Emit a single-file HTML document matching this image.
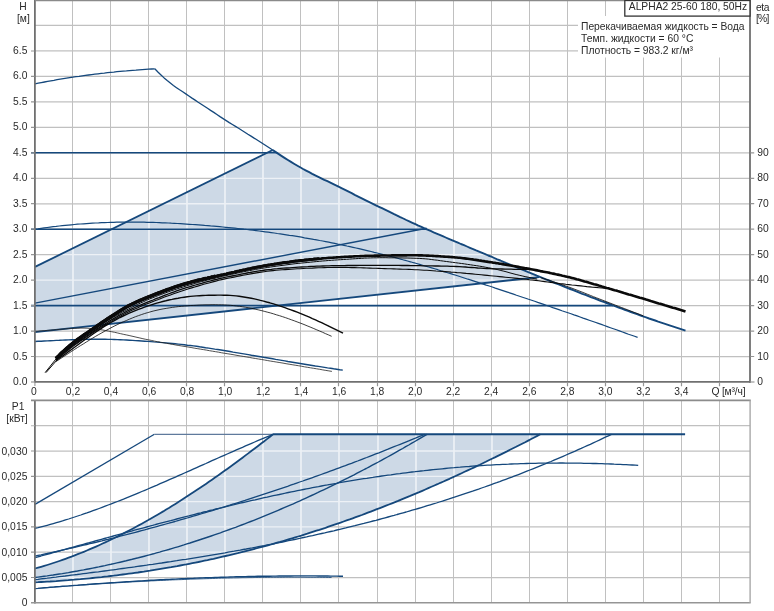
<!DOCTYPE html>
<html><head><meta charset="utf-8"><title>ALPHA2 25-60 180</title>
<style>html,body{margin:0;padding:0;background:#fff;}body{width:774px;height:611px;overflow:hidden;position:relative;font-family:"Liberation Sans",sans-serif;}</style>
</head><body>
<svg width="774" height="611" viewBox="0 0 774 611" style="position:absolute;left:0;top:0">
<rect width="774" height="611" fill="#ffffff"/>
<defs><clipPath id="cu"><path d="M35.0 266.9 L272.7 150.0 L272.7 150.0 L274.1 151.0 L275.5 151.9 L276.9 152.8 L278.3 153.7 L279.6 154.7 L281.0 155.6 L282.4 156.5 L283.8 157.4 L285.2 158.3 L286.5 159.1 L287.9 160.0 L289.3 160.9 L290.7 161.7 L292.1 162.6 L293.4 163.4 L294.8 164.2 L296.2 165.1 L297.6 165.9 L299.0 166.7 L300.3 167.4 L301.7 168.2 L303.1 169.0 L304.5 169.7 L305.9 170.5 L307.3 171.2 L308.6 171.9 L310.0 172.7 L311.4 173.4 L312.8 174.1 L314.2 174.8 L315.5 175.5 L316.9 176.1 L318.3 176.8 L319.7 177.5 L321.1 178.2 L322.4 178.8 L323.8 179.5 L325.2 180.2 L326.6 180.9 L328.0 181.5 L329.3 182.2 L330.7 182.9 L332.1 183.5 L333.5 184.2 L334.9 184.9 L336.2 185.5 L337.6 186.2 L339.0 186.9 L340.4 187.6 L341.8 188.3 L343.1 189.0 L344.5 189.7 L345.9 190.4 L347.3 191.1 L348.7 191.7 L350.0 192.4 L351.4 193.1 L352.8 193.8 L354.2 194.5 L355.6 195.2 L357.0 195.9 L358.3 196.6 L359.7 197.3 L361.1 197.9 L362.5 198.6 L363.9 199.3 L365.2 200.0 L366.6 200.7 L368.0 201.4 L369.4 202.1 L370.8 202.7 L372.1 203.4 L373.5 204.1 L374.9 204.8 L376.3 205.4 L377.7 206.1 L379.0 206.8 L380.4 207.5 L381.8 208.1 L383.2 208.8 L384.6 209.5 L385.9 210.2 L387.3 210.8 L388.7 211.5 L390.1 212.2 L391.5 212.9 L392.8 213.5 L394.2 214.2 L395.6 214.9 L397.0 215.5 L398.4 216.2 L399.7 216.9 L401.1 217.5 L402.5 218.2 L403.9 218.8 L405.3 219.5 L406.7 220.1 L408.0 220.8 L409.4 221.4 L410.8 222.1 L412.2 222.7 L413.6 223.4 L414.9 224.0 L416.3 224.6 L417.7 225.3 L419.1 225.9 L420.5 226.5 L421.8 227.1 L423.2 227.7 L424.6 228.3 L426.0 228.9 L427.4 229.5 L428.7 230.2 L430.1 230.8 L431.5 231.4 L432.9 232.0 L434.3 232.5 L435.6 233.1 L437.0 233.7 L438.4 234.3 L439.8 234.9 L441.2 235.5 L442.5 236.1 L443.9 236.7 L445.3 237.3 L446.7 237.9 L448.1 238.5 L449.4 239.1 L450.8 239.6 L452.2 240.2 L453.6 240.8 L455.0 241.4 L456.4 242.0 L457.7 242.6 L459.1 243.2 L460.5 243.8 L461.9 244.4 L463.3 244.9 L464.6 245.5 L466.0 246.1 L467.4 246.7 L468.8 247.3 L470.2 247.9 L471.5 248.4 L472.9 249.0 L474.3 249.6 L475.7 250.2 L477.1 250.8 L478.4 251.3 L479.8 251.9 L481.2 252.5 L482.6 253.1 L484.0 253.7 L485.3 254.2 L486.7 254.8 L488.1 255.4 L489.5 256.0 L490.9 256.6 L492.2 257.1 L493.6 257.7 L495.0 258.3 L496.4 258.9 L497.8 259.4 L499.1 260.0 L500.5 260.6 L501.9 261.2 L503.3 261.7 L504.7 262.3 L506.1 262.9 L507.4 263.5 L508.8 264.0 L510.2 264.6 L511.6 265.2 L513.0 265.8 L514.3 266.3 L515.7 266.9 L517.1 267.5 L518.5 268.1 L519.9 268.6 L521.2 269.2 L522.6 269.8 L524.0 270.3 L525.4 270.9 L526.8 271.5 L528.1 272.0 L529.5 272.6 L530.9 273.2 L532.3 273.7 L533.7 274.3 L535.0 274.9 L536.4 275.4 L537.2 276.3 L35.0 332.1Z"/></clipPath><clipPath id="cl"><path d="M35.0 568.5 L38.1 567.6 L41.1 566.8 L44.2 565.9 L47.2 565.0 L50.3 564.0 L53.3 563.0 L56.4 562.0 L59.4 561.0 L62.5 559.9 L65.5 558.8 L68.6 557.7 L71.6 556.6 L74.7 555.4 L77.7 554.2 L80.8 553.0 L83.8 551.8 L86.9 550.5 L89.9 549.2 L93.0 547.9 L96.0 546.6 L99.1 545.2 L102.1 543.8 L105.2 542.4 L108.2 541.0 L111.3 539.5 L114.3 538.0 L117.4 536.5 L120.4 535.0 L123.5 533.4 L126.5 531.9 L129.6 530.3 L132.6 528.7 L135.7 527.0 L138.7 525.4 L141.8 523.7 L144.8 522.0 L147.9 520.3 L151.0 518.5 L154.0 516.8 L157.1 515.0 L160.1 513.2 L163.2 511.4 L166.2 509.5 L169.3 507.7 L172.3 505.8 L175.4 503.9 L178.4 502.0 L181.5 500.0 L184.5 498.1 L187.6 496.1 L190.6 494.1 L193.7 492.1 L196.7 490.1 L199.8 488.0 L202.8 486.0 L205.9 483.9 L208.9 481.8 L212.0 479.7 L215.0 477.6 L218.1 475.4 L221.1 473.3 L224.2 471.1 L227.2 468.9 L230.3 466.7 L233.3 464.5 L236.4 462.2 L239.4 460.0 L242.5 457.7 L245.5 455.4 L248.6 453.1 L251.6 450.8 L254.7 448.5 L257.7 446.2 L260.8 443.8 L263.9 441.5 L266.9 439.1 L270.0 436.7 L273.0 434.3 L540.3 434.3 L537.3 435.9 L534.2 437.5 L531.2 439.0 L528.2 440.6 L525.2 442.2 L522.1 443.7 L519.1 445.2 L516.1 446.8 L513.1 448.3 L510.0 449.8 L507.0 451.4 L504.0 452.9 L501.0 454.4 L497.9 455.9 L494.9 457.4 L491.9 458.8 L488.8 460.3 L485.8 461.8 L482.8 463.2 L479.8 464.7 L476.7 466.1 L473.7 467.6 L470.7 469.0 L467.7 470.4 L464.6 471.8 L461.6 473.2 L458.6 474.6 L455.6 476.0 L452.5 477.4 L449.5 478.8 L446.5 480.1 L443.5 481.5 L440.4 482.8 L437.4 484.2 L434.4 485.5 L431.4 486.8 L428.3 488.2 L425.3 489.5 L422.3 490.8 L419.3 492.1 L416.2 493.3 L413.2 494.6 L410.2 495.9 L407.2 497.1 L404.1 498.4 L401.1 499.6 L398.1 500.9 L395.1 502.1 L392.0 503.3 L389.0 504.5 L386.0 505.7 L383.0 506.9 L379.9 508.1 L376.9 509.2 L373.9 510.4 L370.8 511.6 L367.8 512.7 L364.8 513.8 L361.8 515.0 L358.7 516.1 L355.7 517.2 L352.7 518.3 L349.7 519.4 L346.6 520.4 L343.6 521.5 L340.6 522.6 L337.6 523.6 L334.5 524.7 L331.5 525.7 L328.5 526.7 L325.5 527.8 L322.4 528.8 L319.4 529.8 L316.4 530.7 L313.4 531.7 L310.3 532.7 L307.3 533.7 L304.3 534.6 L301.3 535.6 L298.2 536.5 L295.2 537.4 L292.2 538.3 L289.2 539.2 L286.1 540.1 L283.1 541.0 L280.1 541.9 L277.1 542.7 L274.0 543.6 L271.0 544.5 L268.0 545.3 L265.0 546.1 L261.9 546.9 L258.9 547.7 L255.9 548.5 L252.8 549.3 L249.8 550.1 L246.8 550.9 L243.8 551.7 L240.7 552.4 L237.7 553.2 L234.7 553.9 L231.7 554.6 L228.6 555.3 L225.6 556.0 L222.6 556.7 L219.6 557.4 L216.5 558.1 L213.5 558.8 L210.5 559.4 L207.5 560.1 L204.4 560.7 L201.4 561.3 L198.4 562.0 L195.4 562.6 L192.3 563.2 L189.3 563.8 L186.3 564.4 L183.3 564.9 L180.2 565.5 L177.2 566.1 L174.2 566.6 L171.2 567.2 L168.1 567.7 L165.1 568.2 L162.1 568.7 L159.1 569.2 L156.0 569.7 L153.0 570.2 L150.0 570.7 L146.9 571.1 L143.9 571.6 L140.9 572.0 L137.9 572.5 L134.8 572.9 L131.8 573.3 L128.8 573.7 L125.8 574.1 L122.7 574.5 L119.7 574.9 L116.7 575.3 L113.7 575.7 L110.6 576.0 L107.6 576.4 L104.6 576.7 L101.6 577.1 L98.5 577.4 L95.5 577.7 L92.5 578.0 L89.5 578.3 L86.4 578.6 L83.4 578.9 L80.4 579.2 L77.4 579.4 L74.3 579.7 L71.3 579.9 L68.3 580.2 L65.3 580.4 L62.2 580.6 L59.2 580.8 L56.2 581.1 L53.2 581.3 L50.1 581.5 L47.1 581.6 L44.1 581.8 L41.1 582.0 L38.0 582.2 L35.0 582.3Z"/></clipPath></defs>
<g stroke="#c0c0c0" stroke-width="1.25" fill="none"><path d="M72.5 0.5 V382.0 M72.5 400.4 V602.8" stroke-width="1.0"/><path d="M110.5 0.5 V382.0 M110.5 400.4 V602.8" stroke-width="1.0"/><path d="M148.5 0.5 V382.0 M148.5 400.4 V602.8" stroke-width="1.0"/><path d="M186.5 0.5 V382.0 M186.5 400.4 V602.8" stroke-width="1.0"/><path d="M224.5 0.5 V382.0 M224.5 400.4 V602.8" stroke-width="1.0"/><path d="M262.5 0.5 V382.0 M262.5 400.4 V602.8" stroke-width="1.0"/><path d="M300.5 0.5 V382.0 M300.5 400.4 V602.8" stroke-width="1.0"/><path d="M338.5 0.5 V382.0 M338.5 400.4 V602.8" stroke-width="1.0"/><path d="M377.5 0.5 V382.0 M377.5 400.4 V602.8" stroke-width="1.0"/><path d="M415.5 0.5 V382.0 M415.5 400.4 V602.8" stroke-width="1.0"/><path d="M453.5 0.5 V382.0 M453.5 400.4 V602.8" stroke-width="1.0"/><path d="M491.5 0.5 V382.0 M491.5 400.4 V602.8" stroke-width="1.0"/><path d="M529.5 0.5 V382.0 M529.5 400.4 V602.8" stroke-width="1.0"/><path d="M567.5 0.5 V382.0 M567.5 400.4 V602.8" stroke-width="1.0"/><path d="M605.5 0.5 V382.0 M605.5 400.4 V602.8" stroke-width="1.0"/><path d="M643.5 0.5 V382.0 M643.5 400.4 V602.8" stroke-width="1.0"/><path d="M681.5 0.5 V382.0 M681.5 400.4 V602.8" stroke-width="1.0"/><path d="M719.5 0.5 V382.0 M719.5 400.4 V602.8" stroke-width="1.0"/><path d="M35.0 356.54 H750.0"/><path d="M35.0 331.07 H750.0"/><path d="M35.0 305.61 H750.0"/><path d="M35.0 280.14 H750.0"/><path d="M35.0 254.68 H750.0"/><path d="M35.0 229.21 H750.0"/><path d="M35.0 203.75 H750.0"/><path d="M35.0 178.28 H750.0"/><path d="M35.0 152.81 H750.0"/><path d="M35.0 127.35 H750.0"/><path d="M35.0 101.88 H750.0"/><path d="M35.0 76.42 H750.0"/><path d="M35.0 50.95 H750.0"/><path d="M35.0 25.49 H750.0"/><path d="M35.0 577.50 H750.0"/><path d="M35.0 552.20 H750.0"/><path d="M35.0 526.90 H750.0"/><path d="M35.0 501.60 H750.0"/><path d="M35.0 476.30 H750.0"/><path d="M35.0 451.00 H750.0"/><path d="M35.0 425.70 H750.0"/></g>
<path d="M35.0 266.9 L272.7 150.0 L272.7 150.0 L274.1 151.0 L275.5 151.9 L276.9 152.8 L278.3 153.7 L279.6 154.7 L281.0 155.6 L282.4 156.5 L283.8 157.4 L285.2 158.3 L286.5 159.1 L287.9 160.0 L289.3 160.9 L290.7 161.7 L292.1 162.6 L293.4 163.4 L294.8 164.2 L296.2 165.1 L297.6 165.9 L299.0 166.7 L300.3 167.4 L301.7 168.2 L303.1 169.0 L304.5 169.7 L305.9 170.5 L307.3 171.2 L308.6 171.9 L310.0 172.7 L311.4 173.4 L312.8 174.1 L314.2 174.8 L315.5 175.5 L316.9 176.1 L318.3 176.8 L319.7 177.5 L321.1 178.2 L322.4 178.8 L323.8 179.5 L325.2 180.2 L326.6 180.9 L328.0 181.5 L329.3 182.2 L330.7 182.9 L332.1 183.5 L333.5 184.2 L334.9 184.9 L336.2 185.5 L337.6 186.2 L339.0 186.9 L340.4 187.6 L341.8 188.3 L343.1 189.0 L344.5 189.7 L345.9 190.4 L347.3 191.1 L348.7 191.7 L350.0 192.4 L351.4 193.1 L352.8 193.8 L354.2 194.5 L355.6 195.2 L357.0 195.9 L358.3 196.6 L359.7 197.3 L361.1 197.9 L362.5 198.6 L363.9 199.3 L365.2 200.0 L366.6 200.7 L368.0 201.4 L369.4 202.1 L370.8 202.7 L372.1 203.4 L373.5 204.1 L374.9 204.8 L376.3 205.4 L377.7 206.1 L379.0 206.8 L380.4 207.5 L381.8 208.1 L383.2 208.8 L384.6 209.5 L385.9 210.2 L387.3 210.8 L388.7 211.5 L390.1 212.2 L391.5 212.9 L392.8 213.5 L394.2 214.2 L395.6 214.9 L397.0 215.5 L398.4 216.2 L399.7 216.9 L401.1 217.5 L402.5 218.2 L403.9 218.8 L405.3 219.5 L406.7 220.1 L408.0 220.8 L409.4 221.4 L410.8 222.1 L412.2 222.7 L413.6 223.4 L414.9 224.0 L416.3 224.6 L417.7 225.3 L419.1 225.9 L420.5 226.5 L421.8 227.1 L423.2 227.7 L424.6 228.3 L426.0 228.9 L427.4 229.5 L428.7 230.2 L430.1 230.8 L431.5 231.4 L432.9 232.0 L434.3 232.5 L435.6 233.1 L437.0 233.7 L438.4 234.3 L439.8 234.9 L441.2 235.5 L442.5 236.1 L443.9 236.7 L445.3 237.3 L446.7 237.9 L448.1 238.5 L449.4 239.1 L450.8 239.6 L452.2 240.2 L453.6 240.8 L455.0 241.4 L456.4 242.0 L457.7 242.6 L459.1 243.2 L460.5 243.8 L461.9 244.4 L463.3 244.9 L464.6 245.5 L466.0 246.1 L467.4 246.7 L468.8 247.3 L470.2 247.9 L471.5 248.4 L472.9 249.0 L474.3 249.6 L475.7 250.2 L477.1 250.8 L478.4 251.3 L479.8 251.9 L481.2 252.5 L482.6 253.1 L484.0 253.7 L485.3 254.2 L486.7 254.8 L488.1 255.4 L489.5 256.0 L490.9 256.6 L492.2 257.1 L493.6 257.7 L495.0 258.3 L496.4 258.9 L497.8 259.4 L499.1 260.0 L500.5 260.6 L501.9 261.2 L503.3 261.7 L504.7 262.3 L506.1 262.9 L507.4 263.5 L508.8 264.0 L510.2 264.6 L511.6 265.2 L513.0 265.8 L514.3 266.3 L515.7 266.9 L517.1 267.5 L518.5 268.1 L519.9 268.6 L521.2 269.2 L522.6 269.8 L524.0 270.3 L525.4 270.9 L526.8 271.5 L528.1 272.0 L529.5 272.6 L530.9 273.2 L532.3 273.7 L533.7 274.3 L535.0 274.9 L536.4 275.4 L537.2 276.3 L35.0 332.1Z" fill="#cdd9e6"/>
<path d="M35.0 568.5 L38.1 567.6 L41.1 566.8 L44.2 565.9 L47.2 565.0 L50.3 564.0 L53.3 563.0 L56.4 562.0 L59.4 561.0 L62.5 559.9 L65.5 558.8 L68.6 557.7 L71.6 556.6 L74.7 555.4 L77.7 554.2 L80.8 553.0 L83.8 551.8 L86.9 550.5 L89.9 549.2 L93.0 547.9 L96.0 546.6 L99.1 545.2 L102.1 543.8 L105.2 542.4 L108.2 541.0 L111.3 539.5 L114.3 538.0 L117.4 536.5 L120.4 535.0 L123.5 533.4 L126.5 531.9 L129.6 530.3 L132.6 528.7 L135.7 527.0 L138.7 525.4 L141.8 523.7 L144.8 522.0 L147.9 520.3 L151.0 518.5 L154.0 516.8 L157.1 515.0 L160.1 513.2 L163.2 511.4 L166.2 509.5 L169.3 507.7 L172.3 505.8 L175.4 503.9 L178.4 502.0 L181.5 500.0 L184.5 498.1 L187.6 496.1 L190.6 494.1 L193.7 492.1 L196.7 490.1 L199.8 488.0 L202.8 486.0 L205.9 483.9 L208.9 481.8 L212.0 479.7 L215.0 477.6 L218.1 475.4 L221.1 473.3 L224.2 471.1 L227.2 468.9 L230.3 466.7 L233.3 464.5 L236.4 462.2 L239.4 460.0 L242.5 457.7 L245.5 455.4 L248.6 453.1 L251.6 450.8 L254.7 448.5 L257.7 446.2 L260.8 443.8 L263.9 441.5 L266.9 439.1 L270.0 436.7 L273.0 434.3 L540.3 434.3 L537.3 435.9 L534.2 437.5 L531.2 439.0 L528.2 440.6 L525.2 442.2 L522.1 443.7 L519.1 445.2 L516.1 446.8 L513.1 448.3 L510.0 449.8 L507.0 451.4 L504.0 452.9 L501.0 454.4 L497.9 455.9 L494.9 457.4 L491.9 458.8 L488.8 460.3 L485.8 461.8 L482.8 463.2 L479.8 464.7 L476.7 466.1 L473.7 467.6 L470.7 469.0 L467.7 470.4 L464.6 471.8 L461.6 473.2 L458.6 474.6 L455.6 476.0 L452.5 477.4 L449.5 478.8 L446.5 480.1 L443.5 481.5 L440.4 482.8 L437.4 484.2 L434.4 485.5 L431.4 486.8 L428.3 488.2 L425.3 489.5 L422.3 490.8 L419.3 492.1 L416.2 493.3 L413.2 494.6 L410.2 495.9 L407.2 497.1 L404.1 498.4 L401.1 499.6 L398.1 500.9 L395.1 502.1 L392.0 503.3 L389.0 504.5 L386.0 505.7 L383.0 506.9 L379.9 508.1 L376.9 509.2 L373.9 510.4 L370.8 511.6 L367.8 512.7 L364.8 513.8 L361.8 515.0 L358.7 516.1 L355.7 517.2 L352.7 518.3 L349.7 519.4 L346.6 520.4 L343.6 521.5 L340.6 522.6 L337.6 523.6 L334.5 524.7 L331.5 525.7 L328.5 526.7 L325.5 527.8 L322.4 528.8 L319.4 529.8 L316.4 530.7 L313.4 531.7 L310.3 532.7 L307.3 533.7 L304.3 534.6 L301.3 535.6 L298.2 536.5 L295.2 537.4 L292.2 538.3 L289.2 539.2 L286.1 540.1 L283.1 541.0 L280.1 541.9 L277.1 542.7 L274.0 543.6 L271.0 544.5 L268.0 545.3 L265.0 546.1 L261.9 546.9 L258.9 547.7 L255.9 548.5 L252.8 549.3 L249.8 550.1 L246.8 550.9 L243.8 551.7 L240.7 552.4 L237.7 553.2 L234.7 553.9 L231.7 554.6 L228.6 555.3 L225.6 556.0 L222.6 556.7 L219.6 557.4 L216.5 558.1 L213.5 558.8 L210.5 559.4 L207.5 560.1 L204.4 560.7 L201.4 561.3 L198.4 562.0 L195.4 562.6 L192.3 563.2 L189.3 563.8 L186.3 564.4 L183.3 564.9 L180.2 565.5 L177.2 566.1 L174.2 566.6 L171.2 567.2 L168.1 567.7 L165.1 568.2 L162.1 568.7 L159.1 569.2 L156.0 569.7 L153.0 570.2 L150.0 570.7 L146.9 571.1 L143.9 571.6 L140.9 572.0 L137.9 572.5 L134.8 572.9 L131.8 573.3 L128.8 573.7 L125.8 574.1 L122.7 574.5 L119.7 574.9 L116.7 575.3 L113.7 575.7 L110.6 576.0 L107.6 576.4 L104.6 576.7 L101.6 577.1 L98.5 577.4 L95.5 577.7 L92.5 578.0 L89.5 578.3 L86.4 578.6 L83.4 578.9 L80.4 579.2 L77.4 579.4 L74.3 579.7 L71.3 579.9 L68.3 580.2 L65.3 580.4 L62.2 580.6 L59.2 580.8 L56.2 581.1 L53.2 581.3 L50.1 581.5 L47.1 581.6 L44.1 581.8 L41.1 582.0 L38.0 582.2 L35.0 582.3Z" fill="#cdd9e6"/>
<g stroke="#edf1f6" stroke-width="1.3" fill="none" clip-path="url(#cu)"><path d="M73.0 0.5 V382.0 M73.0 400.4 V602.8" stroke-width="1.7"/><path d="M111.0 0.5 V382.0 M111.0 400.4 V602.8" stroke-width="1.7"/><path d="M149.0 0.5 V382.0 M149.0 400.4 V602.8" stroke-width="1.7"/><path d="M187.0 0.5 V382.0 M187.0 400.4 V602.8" stroke-width="1.7"/><path d="M225.0 0.5 V382.0 M225.0 400.4 V602.8" stroke-width="1.7"/><path d="M263.0 0.5 V382.0 M263.0 400.4 V602.8" stroke-width="1.7"/><path d="M301.0 0.5 V382.0 M301.0 400.4 V602.8" stroke-width="1.7"/><path d="M339.0 0.5 V382.0 M339.0 400.4 V602.8" stroke-width="1.7"/><path d="M378.0 0.5 V382.0 M378.0 400.4 V602.8" stroke-width="1.7"/><path d="M416.0 0.5 V382.0 M416.0 400.4 V602.8" stroke-width="1.7"/><path d="M454.0 0.5 V382.0 M454.0 400.4 V602.8" stroke-width="1.7"/><path d="M492.0 0.5 V382.0 M492.0 400.4 V602.8" stroke-width="1.7"/><path d="M530.0 0.5 V382.0 M530.0 400.4 V602.8" stroke-width="1.7"/><path d="M568.0 0.5 V382.0 M568.0 400.4 V602.8" stroke-width="1.7"/><path d="M606.0 0.5 V382.0 M606.0 400.4 V602.8" stroke-width="1.7"/><path d="M644.0 0.5 V382.0 M644.0 400.4 V602.8" stroke-width="1.7"/><path d="M682.0 0.5 V382.0 M682.0 400.4 V602.8" stroke-width="1.7"/><path d="M720.0 0.5 V382.0 M720.0 400.4 V602.8" stroke-width="1.7"/><path d="M35.0 356.54 H750.0"/><path d="M35.0 331.07 H750.0"/><path d="M35.0 305.61 H750.0"/><path d="M35.0 280.14 H750.0"/><path d="M35.0 254.68 H750.0"/><path d="M35.0 229.21 H750.0"/><path d="M35.0 203.75 H750.0"/><path d="M35.0 178.28 H750.0"/><path d="M35.0 152.81 H750.0"/><path d="M35.0 127.35 H750.0"/><path d="M35.0 101.88 H750.0"/><path d="M35.0 76.42 H750.0"/><path d="M35.0 50.95 H750.0"/><path d="M35.0 25.49 H750.0"/><path d="M35.0 577.50 H750.0"/><path d="M35.0 552.20 H750.0"/><path d="M35.0 526.90 H750.0"/><path d="M35.0 501.60 H750.0"/><path d="M35.0 476.30 H750.0"/><path d="M35.0 451.00 H750.0"/><path d="M35.0 425.70 H750.0"/></g>
<g stroke="#edf1f6" stroke-width="1.3" fill="none" clip-path="url(#cl)"><path d="M73.0 0.5 V382.0 M73.0 400.4 V602.8" stroke-width="1.7"/><path d="M111.0 0.5 V382.0 M111.0 400.4 V602.8" stroke-width="1.7"/><path d="M149.0 0.5 V382.0 M149.0 400.4 V602.8" stroke-width="1.7"/><path d="M187.0 0.5 V382.0 M187.0 400.4 V602.8" stroke-width="1.7"/><path d="M225.0 0.5 V382.0 M225.0 400.4 V602.8" stroke-width="1.7"/><path d="M263.0 0.5 V382.0 M263.0 400.4 V602.8" stroke-width="1.7"/><path d="M301.0 0.5 V382.0 M301.0 400.4 V602.8" stroke-width="1.7"/><path d="M339.0 0.5 V382.0 M339.0 400.4 V602.8" stroke-width="1.7"/><path d="M378.0 0.5 V382.0 M378.0 400.4 V602.8" stroke-width="1.7"/><path d="M416.0 0.5 V382.0 M416.0 400.4 V602.8" stroke-width="1.7"/><path d="M454.0 0.5 V382.0 M454.0 400.4 V602.8" stroke-width="1.7"/><path d="M492.0 0.5 V382.0 M492.0 400.4 V602.8" stroke-width="1.7"/><path d="M530.0 0.5 V382.0 M530.0 400.4 V602.8" stroke-width="1.7"/><path d="M568.0 0.5 V382.0 M568.0 400.4 V602.8" stroke-width="1.7"/><path d="M606.0 0.5 V382.0 M606.0 400.4 V602.8" stroke-width="1.7"/><path d="M644.0 0.5 V382.0 M644.0 400.4 V602.8" stroke-width="1.7"/><path d="M682.0 0.5 V382.0 M682.0 400.4 V602.8" stroke-width="1.7"/><path d="M720.0 0.5 V382.0 M720.0 400.4 V602.8" stroke-width="1.7"/><path d="M35.0 356.54 H750.0"/><path d="M35.0 331.07 H750.0"/><path d="M35.0 305.61 H750.0"/><path d="M35.0 280.14 H750.0"/><path d="M35.0 254.68 H750.0"/><path d="M35.0 229.21 H750.0"/><path d="M35.0 203.75 H750.0"/><path d="M35.0 178.28 H750.0"/><path d="M35.0 152.81 H750.0"/><path d="M35.0 127.35 H750.0"/><path d="M35.0 101.88 H750.0"/><path d="M35.0 76.42 H750.0"/><path d="M35.0 50.95 H750.0"/><path d="M35.0 25.49 H750.0"/><path d="M35.0 577.50 H750.0"/><path d="M35.0 552.20 H750.0"/><path d="M35.0 526.90 H750.0"/><path d="M35.0 501.60 H750.0"/><path d="M35.0 476.30 H750.0"/><path d="M35.0 451.00 H750.0"/><path d="M35.0 425.70 H750.0"/></g>
<rect x="578" y="16" width="171" height="41.5" fill="#ffffff"/>
<path d="M35.0 83.8 L38.2 83.2 L41.3 82.6 L44.5 82.0 L47.6 81.4 L50.8 80.8 L53.9 80.3 L57.1 79.7 L60.2 79.2 L63.4 78.7 L66.5 78.2 L69.7 77.7 L72.8 77.2 L76.0 76.7 L79.1 76.3 L82.3 75.8 L85.4 75.4 L88.6 75.0 L91.7 74.6 L94.9 74.2 L98.0 73.8 L101.2 73.4 L104.3 73.1 L107.5 72.7 L110.6 72.4 L113.8 72.1 L116.9 71.7 L120.1 71.4 L123.2 71.1 L126.4 70.9 L129.5 70.6 L132.7 70.3 L135.9 70.1 L139.0 69.8 L142.2 69.6 L145.3 69.4 L148.5 69.2 L151.6 69.0 L154.8 68.8" fill="none" stroke="#15487c" stroke-width="1.3" stroke-linejoin="round" stroke-linecap="butt" />
<path d="M154.8 68.8 L157.9 72.0 L161.0 75.0 L164.1 77.9 L167.2 80.6 L170.3 83.1 L173.4 85.5 L176.5 87.7 L179.6 89.8 L182.7 91.8 L185.8 93.9 L188.9 96.0 L192.0 98.1 L195.1 100.1 L198.2 102.2 L201.3 104.2 L204.4 106.2 L207.5 108.3 L210.6 110.4 L213.8 112.4 L216.9 114.5 L220.0 116.6 L223.1 118.6 L226.2 120.6 L229.3 122.6 L232.4 124.5 L235.5 126.4 L238.6 128.3 L241.7 130.3 L244.8 132.2 L247.9 134.2 L251.0 136.1 L254.1 138.1 L257.2 140.0 L260.3 142.0 L263.4 144.0 L266.5 146.0 L269.6 148.0 L272.7 150.0" fill="none" stroke="#15487c" stroke-width="1.3" stroke-linejoin="round" stroke-linecap="butt" />
<path d="M272.7 150.0 L275.8 152.1 L278.8 154.1 L281.8 156.1 L284.9 158.1 L287.9 160.0 L291.0 161.9 L294.0 163.7 L297.0 165.5 L300.1 167.3 L303.1 169.0 L306.1 170.6 L309.2 172.2 L312.2 173.8 L315.2 175.3 L318.3 176.8 L321.3 178.3 L324.3 179.8 L327.4 181.2 L330.4 182.7 L333.4 184.2 L336.5 185.7 L339.5 187.2 L342.5 188.7 L345.6 190.2 L348.6 191.7 L351.7 193.2 L354.7 194.8 L357.7 196.3 L360.8 197.8 L363.8 199.3 L366.8 200.8 L369.9 202.3 L372.9 203.8 L375.9 205.3 L379.0 206.8 L382.0 208.2 L385.0 209.7 L388.1 211.2 L391.1 212.7 L394.1 214.2 L397.2 215.6 L400.2 217.1 L403.3 218.5 L406.3 220.0 L409.3 221.4 L412.4 222.8 L415.4 224.2 L418.4 225.6 L421.5 226.9 L424.5 228.3 L427.5 229.6 L430.6 230.9 L433.6 232.3 L436.6 233.6 L439.7 234.9 L442.7 236.2 L445.7 237.5 L448.8 238.8 L451.8 240.1 L454.8 241.4 L457.9 242.7 L460.9 244.0 L464.0 245.2 L467.0 246.5 L470.0 247.8 L473.1 249.1 L476.1 250.4 L479.1 251.6 L482.2 252.9 L485.2 254.2 L488.2 255.5 L491.3 256.7 L494.3 258.0 L497.3 259.3 L500.4 260.5 L503.4 261.8 L506.4 263.1 L509.5 264.3 L512.5 265.6 L515.6 266.8 L518.6 268.1 L521.6 269.4 L524.7 270.6 L527.7 271.9 L530.7 273.1 L533.8 274.3 L536.8 275.6 L539.8 276.8 L542.9 278.1 L545.9 279.3 L548.9 280.5 L552.0 281.8 L555.0 283.0 L558.0 284.2 L561.1 285.4 L564.1 286.6 L567.2 287.8 L570.2 289.0 L573.2 290.2 L576.3 291.4 L579.3 292.6 L582.3 293.8 L585.4 294.9 L588.4 296.1 L591.4 297.3 L594.5 298.4 L597.5 299.6 L600.5 300.8 L603.6 301.9 L606.6 303.0 L609.6 304.2 L612.7 305.3 L615.7 306.4 L618.7 307.6 L621.8 308.7 L624.8 309.8 L627.9 310.9 L630.9 312.0 L633.9 313.1 L637.0 314.2 L640.0 315.3 L643.0 316.4 L646.1 317.4 L649.1 318.5 L652.1 319.5 L655.2 320.5 L658.2 321.6 L661.2 322.6 L664.3 323.6 L667.3 324.6 L670.3 325.6 L673.4 326.6 L676.4 327.6 L679.5 328.6 L682.5 329.6 L685.5 330.6" fill="none" stroke="#15487c" stroke-width="1.9" stroke-linejoin="round" stroke-linecap="butt" />
<path d="M31.0 152.8 L277.4 152.8" fill="none" stroke="#15487c" stroke-width="1.6" stroke-linejoin="round" stroke-linecap="butt" />
<path d="M31.0 229.2 L426.6 229.2" fill="none" stroke="#15487c" stroke-width="1.6" stroke-linejoin="round" stroke-linecap="butt" />
<path d="M31.0 305.6 L612.9 305.6" fill="none" stroke="#15487c" stroke-width="1.6" stroke-linejoin="round" stroke-linecap="butt" />
<path d="M35.0 266.9 L272.7 150.0" fill="none" stroke="#15487c" stroke-width="1.8" stroke-linejoin="round" stroke-linecap="butt" />
<path d="M35.0 303.1 L426.6 228.2" fill="none" stroke="#15487c" stroke-width="1.4" stroke-linejoin="round" stroke-linecap="butt" />
<path d="M35.0 332.1 L539.1 277.1" fill="none" stroke="#15487c" stroke-width="1.8" stroke-linejoin="round" stroke-linecap="butt" />
<path d="M35.0 229.2 L38.0 228.8 L41.1 228.3 L44.1 227.9 L47.1 227.5 L50.1 227.1 L53.2 226.7 L56.2 226.4 L59.2 226.0 L62.3 225.7 L65.3 225.4 L68.3 225.1 L71.3 224.8 L74.4 224.5 L77.4 224.2 L80.4 224.0 L83.5 223.8 L86.5 223.6 L89.5 223.4 L92.5 223.2 L95.6 223.0 L98.6 222.9 L101.6 222.7 L104.6 222.6 L107.7 222.5 L110.7 222.4 L113.7 222.3 L116.8 222.2 L119.8 222.2 L122.8 222.1 L125.8 222.1 L128.9 222.1 L131.9 222.1 L134.9 222.1 L138.0 222.1 L141.0 222.2 L144.0 222.2 L147.0 222.3 L150.1 222.3 L153.1 222.4 L156.1 222.5 L159.2 222.6 L162.2 222.8 L165.2 222.9 L168.2 223.0 L171.3 223.2 L174.3 223.3 L177.3 223.5 L180.4 223.7 L183.4 223.9 L186.4 224.1 L189.4 224.3 L192.5 224.5 L195.5 224.7 L198.5 224.9 L201.6 225.1 L204.6 225.4 L207.6 225.6 L210.6 225.9 L213.7 226.1 L216.7 226.4 L219.7 226.7 L222.8 227.0 L225.8 227.3 L228.8 227.6 L231.8 227.9 L234.9 228.2 L237.9 228.5 L240.9 228.8 L243.9 229.2 L247.0 229.5 L250.0 229.9 L253.0 230.2 L256.1 230.6 L259.1 231.0 L262.1 231.4 L265.1 231.8 L268.2 232.2 L271.2 232.6 L274.2 233.0 L277.3 233.5 L280.3 233.9 L283.3 234.3 L286.3 234.8 L289.4 235.3 L292.4 235.7 L295.4 236.2 L298.5 236.7 L301.5 237.2 L304.5 237.8 L307.5 238.3 L310.6 238.8 L313.6 239.4 L316.6 239.9 L319.7 240.5 L322.7 241.0 L325.7 241.6 L328.7 242.2 L331.8 242.8 L334.8 243.4 L337.8 244.1 L340.9 244.7 L343.9 245.3 L346.9 246.0 L349.9 246.6 L353.0 247.3 L356.0 248.0 L359.0 248.7 L362.0 249.4 L365.1 250.1 L368.1 250.8 L371.1 251.5 L374.2 252.3 L377.2 253.0 L380.2 253.8 L383.2 254.6 L386.3 255.3 L389.3 256.1 L392.3 256.9 L395.4 257.7 L398.4 258.5 L401.4 259.3 L404.4 260.2 L407.5 261.0 L410.5 261.8 L413.5 262.7 L416.6 263.5 L419.6 264.4 L422.6 265.3 L425.6 266.2 L428.7 267.0 L431.7 267.9 L434.7 268.8 L437.8 269.7 L440.8 270.7 L443.8 271.6 L446.8 272.5 L449.9 273.4 L452.9 274.4 L455.9 275.3 L459.0 276.3 L462.0 277.2 L465.0 278.2 L468.0 279.2 L471.1 280.1 L474.1 281.1 L477.1 282.1 L480.1 283.1 L483.2 284.1 L486.2 285.1 L489.2 286.0 L492.3 287.0 L495.3 288.1 L498.3 289.1 L501.3 290.1 L504.4 291.1 L507.4 292.1 L510.4 293.1 L513.5 294.1 L516.5 295.2 L519.5 296.2 L522.5 297.2 L525.6 298.2 L528.6 299.3 L531.6 300.3 L534.7 301.3 L537.7 302.4 L540.7 303.4 L543.7 304.4 L546.8 305.5 L549.8 306.5 L552.8 307.6 L555.9 308.6 L558.9 309.6 L561.9 310.7 L564.9 311.7 L568.0 312.8 L571.0 313.8 L574.0 314.9 L577.1 315.9 L580.1 317.0 L583.1 318.1 L586.1 319.1 L589.2 320.2 L592.2 321.2 L595.2 322.3 L598.3 323.4 L601.3 324.4 L604.3 325.5 L607.3 326.6 L610.4 327.7 L613.4 328.7 L616.4 329.8 L619.4 330.9 L622.5 332.0 L625.5 333.1 L628.5 334.2 L631.6 335.2 L634.6 336.3 L637.6 337.4" fill="none" stroke="#15487c" stroke-width="1.2" stroke-linejoin="round" stroke-linecap="butt" />
<path d="M35.0 341.5 L38.0 341.3 L41.1 341.2 L44.1 341.0 L47.2 340.9 L50.2 340.7 L53.3 340.6 L56.3 340.4 L59.4 340.3 L62.4 340.1 L65.5 340.0 L68.5 339.9 L71.6 339.8 L74.6 339.7 L77.7 339.6 L80.7 339.5 L83.8 339.4 L86.8 339.4 L89.9 339.3 L92.9 339.3 L95.9 339.3 L99.0 339.3 L102.0 339.3 L105.1 339.3 L108.1 339.4 L111.2 339.4 L114.2 339.5 L117.3 339.6 L120.3 339.7 L123.4 339.9 L126.4 340.0 L129.5 340.2 L132.5 340.4 L135.6 340.6 L138.6 340.8 L141.7 341.0 L144.7 341.2 L147.7 341.4 L150.8 341.6 L153.8 341.9 L156.9 342.1 L159.9 342.4 L163.0 342.6 L166.0 342.9 L169.1 343.2 L172.1 343.5 L175.2 343.8 L178.2 344.1 L181.3 344.4 L184.3 344.8 L187.4 345.2 L190.4 345.5 L193.5 345.9 L196.5 346.3 L199.6 346.8 L202.6 347.2 L205.6 347.7 L208.7 348.1 L211.7 348.6 L214.8 349.1 L217.8 349.5 L220.9 350.0 L223.9 350.5 L227.0 351.0 L230.0 351.5 L233.1 352.1 L236.1 352.6 L239.2 353.1 L242.2 353.6 L245.3 354.1 L248.3 354.6 L251.4 355.2 L254.4 355.7 L257.4 356.2 L260.5 356.7 L263.5 357.3 L266.6 357.8 L269.6 358.3 L272.7 358.8 L275.7 359.4 L278.8 359.9 L281.8 360.4 L284.9 360.9 L287.9 361.5 L291.0 362.0 L294.0 362.5 L297.1 363.0 L300.1 363.5 L303.2 364.0 L306.2 364.5 L309.3 365.0 L312.3 365.5 L315.3 366.0 L318.4 366.4 L321.4 366.9 L324.5 367.4 L327.5 367.9 L330.6 368.3 L333.6 368.8 L336.7 369.2 L339.7 369.7 L342.8 370.1" fill="none" stroke="#15487c" stroke-width="1.4" stroke-linejoin="round" stroke-linecap="butt" />
<path d="M35.0 331.1 L38.1 331.0 L41.1 330.8 L44.2 330.7 L47.2 330.4 L50.3 330.2 L53.4 329.9 L56.4 329.7 L59.5 329.4 L62.6 329.1 L65.6 328.9 L68.7 328.6 L71.7 328.4 L74.8 328.3 L77.9 328.2 L80.9 328.1 L84.0 328.1 L87.0 328.2 L90.1 328.4 L93.2 328.6 L96.2 329.0 L99.3 329.4 L102.3 329.9 L105.4 330.5 L108.5 331.1 L111.5 331.7 L114.6 332.3 L117.7 333.0 L120.7 333.7 L123.8 334.4 L126.8 335.0 L129.9 335.7 L133.0 336.4 L136.0 337.1 L139.1 337.8 L142.1 338.5 L145.2 339.2 L148.3 339.8 L151.3 340.4 L154.4 341.1 L157.4 341.7 L160.5 342.2 L163.6 342.8 L166.6 343.3 L169.7 343.9 L172.8 344.4 L175.8 345.0 L178.9 345.5 L181.9 346.0 L185.0 346.5 L188.1 347.0 L191.1 347.5 L194.2 348.1 L197.2 348.6 L200.3 349.1 L203.4 349.6 L206.4 350.1 L209.5 350.7 L212.5 351.2 L215.6 351.7 L218.7 352.2 L221.7 352.8 L224.8 353.3 L227.9 353.8 L230.9 354.3 L234.0 354.8 L237.0 355.4 L240.1 355.9 L243.2 356.4 L246.2 356.9 L249.3 357.4 L252.3 358.0 L255.4 358.5 L258.5 359.0 L261.5 359.5 L264.6 360.0 L267.7 360.6 L270.7 361.1 L273.8 361.6 L276.8 362.1 L279.9 362.6 L283.0 363.1 L286.0 363.7 L289.1 364.2 L292.1 364.7 L295.2 365.2 L298.3 365.7 L301.3 366.2 L304.4 366.8 L307.4 367.3 L310.5 367.8 L313.6 368.3 L316.6 368.8 L319.7 369.3 L322.8 369.9 L325.8 370.4 L328.9 370.9 L331.9 371.4" fill="none" stroke="#222" stroke-width="0.8" stroke-linejoin="round" stroke-linecap="butt" />
<path d="M45.1 372.6 L55.9 359.1" fill="none" stroke="#0a0a0a" stroke-width="1.0" stroke-linejoin="round" stroke-linecap="butt" />
<path d="M46.0 372.6 L56.9 360.1" fill="none" stroke="#0a0a0a" stroke-width="1.0" stroke-linejoin="round" stroke-linecap="butt" />
<path d="M55.9 358.6 L57.5 357.0 L59.1 355.5 L60.6 353.9 L62.2 352.4 L63.8 351.0 L65.4 349.5 L67.0 348.1 L68.5 346.8 L70.1 345.4 L71.7 344.1 L73.3 342.8 L74.8 341.6 L76.4 340.4 L78.0 339.2 L79.6 338.1 L81.2 337.0 L82.7 335.9 L84.3 334.8 L85.9 333.7 L87.5 332.7 L89.0 331.6 L90.6 330.5 L92.2 329.4 L93.8 328.3 L95.4 327.2 L96.9 326.1 L98.5 325.0 L100.1 323.9 L101.7 322.8 L103.3 321.7 L104.8 320.7 L106.4 319.6 L108.0 318.5 L109.6 317.5 L111.1 316.5 L112.7 315.5 L114.3 314.5 L115.9 313.5 L117.5 312.5 L119.0 311.5 L120.6 310.5 L122.2 309.5 L123.8 308.6 L125.3 307.7 L126.9 306.8 L128.5 305.9 L130.1 305.1 L131.7 304.3 L133.2 303.5 L134.8 302.8 L136.4 302.0 L138.0 301.3 L139.5 300.6 L141.1 300.0 L142.7 299.3 L144.3 298.6 L145.9 298.0 L147.4 297.3 L149.0 296.7 L150.6 296.1 L152.2 295.5 L153.7 294.8 L155.3 294.2 L156.9 293.6 L158.5 293.0 L160.1 292.4 L161.6 291.8 L163.2 291.2 L164.8 290.6 L166.4 290.0 L167.9 289.4 L169.5 288.9 L171.1 288.3 L172.7 287.8 L174.3 287.2 L175.8 286.7 L177.4 286.2 L179.0 285.7 L180.6 285.2 L182.1 284.7 L183.7 284.2 L185.3 283.7 L186.9 283.3 L188.5 282.8 L190.0 282.4 L191.6 281.9 L193.2 281.5 L194.8 281.1 L196.4 280.7 L197.9 280.3 L199.5 279.9 L201.1 279.6 L202.7 279.2 L204.2 278.8 L205.8 278.4 L207.4 278.1 L209.0 277.7 L210.6 277.4 L212.1 277.0 L213.7 276.7 L215.3 276.3 L216.9 276.0 L218.4 275.6 L220.0 275.3 L221.6 274.9 L223.2 274.6 L224.8 274.2 L226.3 273.9 L227.9 273.5 L229.5 273.1 L231.1 272.8 L232.6 272.4 L234.2 272.1 L235.8 271.7 L237.4 271.3 L239.0 271.0 L240.5 270.6 L242.1 270.3 L243.7 269.9 L245.3 269.6 L246.8 269.2 L248.4 268.9 L250.0 268.6 L251.6 268.2 L253.2 267.9 L254.7 267.6 L256.3 267.3 L257.9 267.0 L259.5 266.7 L261.0 266.4 L262.6 266.1 L264.2 265.8 L265.8 265.6 L267.4 265.3 L268.9 265.0 L270.5 264.8 L272.1 264.5 L273.7 264.3 L275.2 264.0 L276.8 263.8 L278.4 263.5 L280.0 263.3 L281.6 263.1 L283.1 262.8 L284.7 262.6 L286.3 262.4 L287.9 262.2 L289.5 262.0 L291.0 261.7 L292.6 261.5 L294.2 261.3 L295.8 261.1 L297.3 261.0 L298.9 260.8 L300.5 260.6 L302.1 260.4 L303.7 260.3 L305.2 260.1 L306.8 259.9 L308.4 259.8 L310.0 259.6 L311.5 259.4 L313.1 259.3 L314.7 259.1 L316.3 259.0 L317.9 258.8 L319.4 258.7 L321.0 258.6 L322.6 258.4 L324.2 258.3 L325.7 258.2 L327.3 258.0 L328.9 257.9 L330.5 257.8 L332.1 257.7 L333.6 257.6 L335.2 257.5 L336.8 257.4 L338.4 257.3 L339.9 257.2 L341.5 257.1 L343.1 257.0 L344.7 256.9 L346.3 256.8 L347.8 256.7 L349.4 256.6 L351.0 256.6 L352.6 256.5 L354.1 256.4 L355.7 256.3 L357.3 256.2 L358.9 256.2 L360.5 256.1 L362.0 256.0 L363.6 256.0 L365.2 255.9 L366.8 255.8 L368.3 255.8 L369.9 255.7 L371.5 255.7 L373.1 255.7 L374.7 255.6 L376.2 255.6 L377.8 255.6 L379.4 255.6 L381.0 255.5 L382.6 255.5 L384.1 255.5 L385.7 255.5 L387.3 255.5 L388.9 255.5 L390.4 255.5 L392.0 255.4 L393.6 255.4 L395.2 255.4 L396.8 255.4 L398.3 255.4 L399.9 255.4 L401.5 255.4 L403.1 255.4 L404.6 255.4 L406.2 255.4 L407.8 255.3 L409.4 255.3 L411.0 255.3 L412.5 255.3 L414.1 255.3 L415.7 255.3 L417.3 255.3 L418.8 255.4 L420.4 255.4 L422.0 255.4 L423.6 255.5 L425.2 255.5 L426.7 255.6 L428.3 255.6 L429.9 255.7 L431.5 255.8 L433.0 255.9 L434.6 256.0 L436.2 256.1 L437.8 256.1 L439.4 256.2 L440.9 256.4 L442.5 256.5 L444.1 256.6 L445.7 256.7 L447.2 256.8 L448.8 256.9 L450.4 257.0 L452.0 257.1 L453.6 257.2 L455.1 257.4 L456.7 257.5 L458.3 257.7 L459.9 257.8 L461.5 258.0 L463.0 258.2 L464.6 258.4 L466.2 258.6 L467.8 258.8 L469.3 259.0 L470.9 259.2 L472.5 259.4 L474.1 259.7 L475.7 259.9 L477.2 260.1 L478.8 260.4 L480.4 260.6 L482.0 260.9 L483.5 261.1 L485.1 261.4 L486.7 261.6 L488.3 261.9 L489.9 262.1 L491.4 262.3 L493.0 262.6 L494.6 262.8 L496.2 263.1 L497.7 263.3 L499.3 263.6 L500.9 263.8 L502.5 264.1 L504.1 264.4 L505.6 264.6 L507.2 264.9 L508.8 265.2 L510.4 265.5 L511.9 265.7 L513.5 266.0 L515.1 266.3 L516.7 266.6 L518.3 266.9 L519.8 267.2 L521.4 267.5 L523.0 267.8 L524.6 268.1 L526.1 268.3 L527.7 268.6 L529.3 268.9 L530.9 269.2 L532.5 269.5 L534.0 269.8 L535.6 270.1 L537.2 270.4 L538.8 270.7 L540.3 271.1 L541.9 271.4 L543.5 271.7 L545.1 272.0 L546.7 272.3 L548.2 272.6 L549.8 272.9 L551.4 273.3 L553.0 273.6 L554.6 273.9 L556.1 274.3 L557.7 274.6 L559.3 274.9 L560.9 275.3 L562.4 275.7 L564.0 276.0 L565.6 276.4 L567.2 276.8 L568.8 277.1 L570.3 277.5 L571.9 277.9 L573.5 278.3 L575.1 278.7 L576.6 279.2 L578.2 279.6 L579.8 280.0 L581.4 280.5 L583.0 280.9 L584.5 281.4 L586.1 281.8 L587.7 282.3 L589.3 282.8 L590.8 283.2 L592.4 283.7 L594.0 284.2 L595.6 284.6 L597.2 285.1 L598.7 285.6 L600.3 286.0 L601.9 286.5 L603.5 286.9 L605.0 287.4 L606.6 287.9 L608.2 288.3 L609.8 288.8 L611.4 289.2 L612.9 289.7 L614.5 290.2 L616.1 290.6 L617.7 291.1 L619.2 291.5 L620.8 292.0 L622.4 292.5 L624.0 293.0 L625.6 293.4 L627.1 293.9 L628.7 294.4 L630.3 294.8 L631.9 295.3 L633.4 295.8 L635.0 296.2 L636.6 296.7 L638.2 297.2 L639.8 297.7 L641.3 298.1 L642.9 298.6 L644.5 299.1 L646.1 299.6 L647.7 300.0 L649.2 300.5 L650.8 301.0 L652.4 301.4 L654.0 301.9 L655.5 302.4 L657.1 302.9 L658.7 303.4 L660.3 303.8 L661.9 304.3 L663.4 304.8 L665.0 305.3 L666.6 305.7 L668.2 306.2 L669.7 306.7 L671.3 307.2 L672.9 307.7 L674.5 308.1 L676.1 308.6 L677.6 309.1 L679.2 309.6 L680.8 310.1 L682.4 310.5 L683.9 311.0 L685.5 311.5" fill="none" stroke="#0a0a0a" stroke-width="2.6" stroke-linejoin="round" stroke-linecap="butt" />
<path d="M55.9 358.6 L57.5 357.0 L59.1 355.5 L60.6 353.9 L62.2 352.4 L63.8 351.0 L65.4 349.5 L67.0 348.1 L68.5 346.8 L70.1 345.4 L71.7 344.1 L73.3 342.8 L74.8 341.6 L76.4 340.4 L78.0 339.2 L79.6 338.1 L81.2 337.0 L82.7 335.9 L84.3 334.8 L85.9 333.7 L87.5 332.7 L89.0 331.6 L90.6 330.5 L92.2 329.4 L93.8 328.3 L95.4 327.2 L96.9 326.1 L98.5 325.0 L100.1 323.9 L101.7 322.8 L103.3 321.7 L104.8 320.7 L106.4 319.6 L108.0 318.5 L109.6 317.5 L111.1 316.5 L112.7 315.5 L114.3 314.5 L115.9 313.5 L117.5 312.5 L119.0 311.5 L120.6 310.5 L122.2 309.5 L123.8 308.6 L125.3 307.7 L126.9 306.8 L128.5 305.9 L130.1 305.1 L131.7 304.3 L133.2 303.5 L134.8 302.8 L136.4 302.0 L138.0 301.3 L139.5 300.6 L141.1 300.0 L142.7 299.3 L144.3 298.6 L145.9 298.0 L147.4 297.3 L149.0 296.7 L150.6 296.1 L152.2 295.5 L153.7 294.8 L155.3 294.2 L156.9 293.6 L158.5 293.0 L160.1 292.4 L161.6 291.8 L163.2 291.2 L164.8 290.6 L166.4 290.0 L167.9 289.4 L169.5 288.9 L171.1 288.3 L172.7 287.8 L174.3 287.2 L175.8 286.7 L177.4 286.2 L179.0 285.7 L180.6 285.2 L182.1 284.7 L183.7 284.2 L185.3 283.7 L186.9 283.3 L188.5 282.8 L190.0 282.4 L191.6 281.9 L193.2 281.5 L194.8 281.1 L196.4 280.7 L197.9 280.3 L199.5 279.9 L201.1 279.6 L202.7 279.2 L204.2 278.8 L205.8 278.4 L207.4 278.1 L209.0 277.7 L210.6 277.4 L212.1 277.0 L213.7 276.7 L215.3 276.3 L216.9 276.0 L218.4 275.6 L220.0 275.3 L221.6 274.9 L223.2 274.6 L224.8 274.2 L226.3 273.9 L227.9 273.5 L229.5 273.1 L231.1 272.8 L232.6 272.4 L234.2 272.1 L235.8 271.7 L237.4 271.3 L239.0 271.0 L240.5 270.6 L242.1 270.3 L243.7 269.9 L245.3 269.6 L246.8 269.2 L248.4 268.9 L250.0 268.6 L251.6 268.2 L253.2 267.9 L254.7 267.6 L256.3 267.3 L257.9 267.0 L259.5 266.7 L261.0 266.4 L262.6 266.1 L264.2 265.8 L265.8 265.6 L267.4 265.3 L268.9 265.0 L270.5 264.8 L272.1 264.5 L273.7 264.3 L275.2 264.0 L276.8 263.8 L278.4 263.5 L280.0 263.3 L281.6 263.1 L283.1 262.8 L284.7 262.6 L286.3 262.4 L287.9 262.2 L289.5 262.0 L291.0 261.7 L292.6 261.5 L294.2 261.3 L295.8 261.1 L297.3 261.0 L298.9 260.8 L300.5 260.6 L302.1 260.4 L303.7 260.3 L305.2 260.1 L306.8 259.9 L308.4 259.8 L310.0 259.6 L311.5 259.4 L313.1 259.3 L314.7 259.1 L316.3 259.0 L317.9 258.8 L319.4 258.7" fill="none" stroke="#0a0a0a" stroke-width="3.0" stroke-linejoin="round" stroke-linecap="butt" />
<path d="M55.9 358.6 L57.5 357.0 L59.1 355.5 L60.6 353.9 L62.2 352.4 L63.8 351.0 L65.4 349.5 L67.0 348.1 L68.5 346.8 L70.1 345.4 L71.7 344.1 L73.3 342.8 L74.8 341.6 L76.4 340.4 L78.0 339.2 L79.6 338.1 L81.2 337.0 L82.7 335.9 L84.3 334.8 L85.9 333.7 L87.5 332.7 L89.0 331.6 L90.6 330.5 L92.2 329.4 L93.8 328.3 L95.4 327.2 L96.9 326.1 L98.5 325.0 L100.1 323.9 L101.7 322.8 L103.3 321.7 L104.8 320.7 L106.4 319.6 L108.0 318.5 L109.6 317.5 L111.1 316.5 L112.7 315.5 L114.3 314.5 L115.9 313.5 L117.5 312.5 L119.0 311.5 L120.6 310.5 L122.2 309.5 L123.8 308.6 L125.3 307.7 L126.9 306.8 L128.5 305.9 L130.1 305.1 L131.7 304.3 L133.2 303.5 L134.8 302.8 L136.4 302.0 L138.0 301.3 L139.5 300.6 L141.1 300.0 L142.7 299.3 L144.3 298.6 L145.9 298.0 L147.4 297.3 L149.0 296.7 L150.6 296.1 L152.2 295.5 L153.7 294.8 L155.3 294.2 L156.9 293.6 L158.5 293.0 L160.1 292.4 L161.6 291.8 L163.2 291.2 L164.8 290.6 L166.4 290.0 L167.9 289.4 L169.5 288.9 L171.1 288.3 L172.7 287.8 L174.3 287.2 L175.8 286.7 L177.4 286.2 L179.0 285.7 L180.6 285.2 L182.1 284.7 L183.7 284.2 L185.3 283.7 L186.9 283.3 L188.5 282.8 L190.0 282.4 L191.6 281.9 L193.2 281.5 L194.8 281.1 L196.4 280.7 L197.9 280.3 L199.5 279.9 L201.1 279.6 L202.7 279.2 L204.2 278.8 L205.8 278.4 L207.4 278.1 L209.0 277.7 L210.6 277.4 L212.1 277.0 L213.7 276.7 L215.3 276.3" fill="none" stroke="#0a0a0a" stroke-width="3.5" stroke-linejoin="round" stroke-linecap="butt" />
<path d="M55.9 359.6 L58.9 357.0 L62.0 354.4 L65.0 351.9 L68.0 349.4 L71.1 347.1 L74.1 344.8 L77.2 342.5 L80.2 340.4 L83.2 338.3 L86.3 336.2 L89.3 334.2 L92.3 332.1 L95.4 330.1 L98.4 328.1 L101.4 326.1 L104.5 324.2 L107.5 322.3 L110.5 320.4 L113.6 318.6 L116.6 316.9 L119.6 315.1 L122.7 313.5 L125.7 311.9 L128.7 310.3 L131.8 308.9 L134.8 307.5 L137.8 306.1 L140.9 304.9 L143.9 303.6 L146.9 302.4 L150.0 301.2 L153.0 300.0 L156.0 298.7 L159.1 297.6 L162.1 296.4 L165.1 295.2 L168.2 294.0 L171.2 292.9 L174.2 291.8 L177.3 290.7 L180.3 289.7 L183.4 288.7 L186.4 287.7 L189.4 286.8 L192.5 285.9 L195.5 285.0 L198.5 284.1 L201.6 283.3 L204.6 282.4 L207.6 281.6 L210.7 280.8 L213.7 280.0 L216.7 279.3 L219.8 278.5 L222.8 277.8 L225.8 277.2 L228.9 276.6 L231.9 276.0 L234.9 275.4 L238.0 274.8 L241.0 274.2 L244.0 273.6 L247.1 273.0 L250.1 272.5 L253.1 271.9 L256.2 271.4 L259.2 270.9 L262.2 270.5 L265.3 270.0 L268.3 269.6 L271.3 269.3 L274.4 268.9 L277.4 268.7 L280.4 268.4 L283.5 268.2 L286.5 268.0 L289.6 267.8 L292.6 267.6 L295.6 267.4 L298.7 267.2 L301.7 267.0 L304.7 266.8 L307.8 266.7 L310.8 266.5 L313.8 266.4 L316.9 266.2 L319.9 266.1 L322.9 266.0 L326.0 265.9 L329.0 265.8 L332.0 265.7 L335.1 265.7 L338.1 265.6 L341.1 265.6 L344.2 265.6 L347.2 265.5 L350.2 265.5 L353.3 265.5 L356.3 265.5 L359.3 265.4 L362.4 265.4 L365.4 265.4 L368.4 265.4 L371.5 265.4 L374.5 265.4 L377.5 265.4 L380.6 265.4 L383.6 265.4 L386.6 265.4 L389.7 265.4 L392.7 265.4 L395.8 265.4 L398.8 265.4 L401.8 265.5 L404.9 265.5 L407.9 265.5 L410.9 265.6 L414.0 265.6 L417.0 265.7 L420.0 265.7 L423.1 265.8 L426.1 265.8 L429.1 265.9 L432.2 265.9 L435.2 266.0 L438.2 266.0 L441.3 266.1 L444.3 266.2 L447.3 266.2 L450.4 266.3 L453.4 266.4 L456.4 266.5 L459.5 266.6 L462.5 266.8 L465.5 267.0 L468.6 267.3 L471.6 267.5 L474.6 267.7 L477.7 268.0 L480.7 268.2 L483.7 268.4 L486.8 268.6 L489.8 268.7 L492.8 268.8 L495.9 268.9 L498.9 268.9 L502.0 269.0 L505.0 269.1 L508.0 269.2 L511.1 269.2 L514.1 269.3 L517.1 269.3 L520.2 269.4 L523.2 269.4 L526.2 269.4 L529.3 269.4" fill="none" stroke="#0a0a0a" stroke-width="1.3" stroke-linejoin="round" stroke-linecap="butt" />
<path d="M55.9 360.1 L58.9 357.5 L61.9 355.0 L65.0 352.6 L68.0 350.2 L71.0 347.9 L74.0 345.6 L77.0 343.5 L80.0 341.3 L83.1 339.3 L86.1 337.3 L89.1 335.3 L92.1 333.3 L95.1 331.3 L98.1 329.4 L101.2 327.4 L104.2 325.5 L107.2 323.7 L110.2 321.9 L113.2 320.1 L116.2 318.4 L119.3 316.8 L122.3 315.1 L125.3 313.6 L128.3 312.0 L131.3 310.6 L134.3 309.2 L137.4 307.9 L140.4 306.6 L143.4 305.3 L146.4 304.1 L149.4 302.9 L152.4 301.7 L155.5 300.5 L158.5 299.4 L161.5 298.2 L164.5 297.1 L167.5 296.0 L170.5 294.9 L173.6 293.8 L176.6 292.7 L179.6 291.7 L182.6 290.7 L185.6 289.8 L188.7 288.8 L191.7 287.9 L194.7 287.0 L197.7 286.1 L200.7 285.2 L203.7 284.3 L206.8 283.5 L209.8 282.7 L212.8 281.9 L215.8 281.1 L218.8 280.3 L221.8 279.6 L224.9 278.9 L227.9 278.3 L230.9 277.7 L233.9 277.1 L236.9 276.5 L239.9 275.9 L243.0 275.3 L246.0 274.7 L249.0 274.2 L252.0 273.6 L255.0 273.1 L258.0 272.6 L261.1 272.1 L264.1 271.7 L267.1 271.3 L270.1 270.9 L273.1 270.6 L276.1 270.3 L279.2 270.0 L282.2 269.8 L285.2 269.6 L288.2 269.4 L291.2 269.2 L294.2 269.0 L297.3 268.8 L300.3 268.7 L303.3 268.5 L306.3 268.3 L309.3 268.2 L312.3 268.1 L315.4 267.9 L318.4 267.8 L321.4 267.7 L324.4 267.6 L327.4 267.5 L330.4 267.5 L333.5 267.4 L336.5 267.4 L339.5 267.4 L342.5 267.4 L345.5 267.4 L348.5 267.5 L351.6 267.6 L354.6 267.6 L357.6 267.7 L360.6 267.8 L363.6 267.9 L366.6 268.0 L369.7 268.1 L372.7 268.2 L375.7 268.3 L378.7 268.4 L381.7 268.5 L384.7 268.6 L387.8 268.7 L390.8 268.8 L393.8 268.9 L396.8 269.0 L399.8 269.1 L402.8 269.2 L405.9 269.3 L408.9 269.4 L411.9 269.5 L414.9 269.7 L417.9 269.8 L420.9 270.0 L424.0 270.2 L427.0 270.3 L430.0 270.5 L433.0 270.7 L436.0 271.0 L439.0 271.2 L442.1 271.4 L445.1 271.6 L448.1 271.8 L451.1 272.1 L454.1 272.3 L457.1 272.6 L460.2 272.8 L463.2 273.1 L466.2 273.4 L469.2 273.6 L472.2 273.9 L475.2 274.2 L478.3 274.5 L481.3 274.8 L484.3 275.1 L487.3 275.4 L490.3 275.7 L493.3 276.0 L496.4 276.3 L499.4 276.6 L502.4 276.9 L505.4 277.2 L508.4 277.5 L511.4 277.8 L514.5 278.1 L517.5 278.4 L520.5 278.7 L523.5 279.0 L526.5 279.3 L529.5 279.7 L532.6 280.0 L535.6 280.4 L538.6 280.8 L541.6 281.2 L544.6 281.6 L547.7 282.0 L550.7 282.4 L553.7 282.8 L556.7 283.2 L559.7 283.6 L562.7 283.9 L565.8 284.3 L568.8 284.6 L571.8 285.0 L574.8 285.3 L577.8 285.6 L580.8 285.9 L583.9 286.2 L586.9 286.6 L589.9 286.9 L592.9 287.2 L595.9 287.4 L598.9 287.7 L602.0 288.0 L605.0 288.3 L608.0 288.5 L611.0 288.8" fill="none" stroke="#0a0a0a" stroke-width="1.1" stroke-linejoin="round" stroke-linecap="butt" />
<path d="M55.9 359.1 L58.9 356.3 L62.0 353.7 L65.0 351.1 L68.0 348.6 L71.0 346.1 L74.1 343.8 L77.1 341.5 L80.1 339.3 L83.2 337.2 L86.2 335.1 L89.2 333.0 L92.2 330.9 L95.3 328.9 L98.3 326.8 L101.3 324.7 L104.3 322.7 L107.4 320.8 L110.4 319.0 L113.4 317.2 L116.5 315.5 L119.5 313.8 L122.5 312.1 L125.5 310.5 L128.6 308.9 L131.6 307.4 L134.6 305.8 L137.6 304.4 L140.7 302.9 L143.7 301.6 L146.7 300.2 L149.8 298.9 L152.8 297.7 L155.8 296.5 L158.8 295.3 L161.9 294.2 L164.9 293.1 L167.9 292.0 L170.9 290.9 L174.0 289.9 L177.0 288.9 L180.0 287.9 L183.1 287.0 L186.1 286.0 L189.1 285.1 L192.1 284.3 L195.2 283.4 L198.2 282.5 L201.2 281.7 L204.2 280.9 L207.3 280.1 L210.3 279.3 L213.3 278.6 L216.4 277.9 L219.4 277.1 L222.4 276.4 L225.4 275.7 L228.5 275.1 L231.5 274.4 L234.5 273.7 L237.5 273.1 L240.6 272.4 L243.6 271.8 L246.6 271.2 L249.7 270.6 L252.7 270.0 L255.7 269.4 L258.7 268.9 L261.8 268.4 L264.8 267.9 L267.8 267.4 L270.8 267.0 L273.9 266.5 L276.9 266.1 L279.9 265.7 L283.0 265.3 L286.0 264.9 L289.0 264.5 L292.0 264.1 L295.1 263.7 L298.1 263.4 L301.1 263.1 L304.1 262.8 L307.2 262.5 L310.2 262.2 L313.2 261.9 L316.3 261.6 L319.3 261.3 L322.3 261.0 L325.3 260.8 L328.4 260.5 L331.4 260.3 L334.4 260.1 L337.4 259.9 L340.5 259.7 L343.5 259.5 L346.5 259.3 L349.6 259.1 L352.6 258.9 L355.6 258.7 L358.6 258.5 L361.7 258.3 L364.7 258.1 L367.7 258.0 L370.7 257.9 L373.8 257.8 L376.8 257.8 L379.8 257.7 L382.9 257.7 L385.9 257.7 L388.9 257.8 L391.9 257.8 L395.0 257.8 L398.0 257.9 L401.0 257.9 L404.0 258.0 L407.1 258.0 L410.1 258.1 L413.1 258.2 L416.2 258.3 L419.2 258.4 L422.2 258.6 L425.2 258.8 L428.3 259.1 L431.3 259.5 L434.3 259.9 L437.3 260.2 L440.4 260.7 L443.4 261.1 L446.4 261.5 L449.5 261.9 L452.5 262.3 L455.5 262.7 L458.5 263.1 L461.6 263.5 L464.6 263.9 L467.6 264.4 L470.6 264.8 L473.7 265.3 L476.7 265.7 L479.7 266.2 L482.8 266.7 L485.8 267.3 L488.8 267.8 L491.8 268.4 L494.9 269.0 L497.9 269.7 L500.9 270.5 L503.9 271.2 L507.0 272.0 L510.0 272.9 L513.0 273.7 L516.1 274.5 L519.1 275.2 L522.1 275.9 L525.1 276.6 L528.2 277.2 L531.2 277.9 L534.2 278.5 L537.2 279.1" fill="none" stroke="#0a0a0a" stroke-width="1.0" stroke-linejoin="round" stroke-linecap="butt" />
<path d="M540.7 277.6 L543.8 278.6 L546.9 279.6 L550.0 280.6 L553.1 281.6 L556.2 282.7 L559.3 283.7 L562.4 284.8 L565.6 285.9 L568.7 287.0 L571.8 288.1 L574.9 289.3 L578.0 290.5 L581.1 291.7 L584.2 292.9 L587.3 294.2 L590.4 295.4 L593.5 296.7 L596.7 297.9 L599.8 299.1 L602.9 300.3 L606.0 301.5 L609.1 302.7 L612.2 303.9 L615.3 305.1 L618.4 306.3 L621.5 307.5 L624.7 308.7 L627.8 309.9 L630.9 311.1 L634.0 312.3 L637.1 313.4 L640.2 314.6 L643.3 315.8" fill="none" stroke="#0a0a0a" stroke-width="0.8" stroke-linejoin="round" stroke-linecap="butt" />
<path d="M55.9 360.6 L59.0 358.5 L62.0 356.3 L65.1 354.2 L68.1 351.9 L71.2 349.7 L74.2 347.5 L77.3 345.3 L80.3 343.0 L83.4 340.8 L86.4 338.6 L89.5 336.5 L92.6 334.3 L95.6 332.2 L98.7 330.2 L101.7 328.1 L104.8 326.2 L107.8 324.3 L110.9 322.5 L113.9 320.8 L117.0 319.1 L120.0 317.5 L123.1 316.0 L126.1 314.6 L129.2 313.2 L132.3 311.9 L135.3 310.6 L138.4 309.4 L141.4 308.3 L144.5 307.2 L147.5 306.1 L150.6 305.1 L153.6 304.1 L156.7 303.2 L159.7 302.4 L162.8 301.5 L165.8 300.8 L168.9 300.0 L172.0 299.4 L175.0 298.7 L178.1 298.2 L181.1 297.6 L184.2 297.2 L187.2 296.8 L190.3 296.4 L193.3 296.1 L196.4 295.9 L199.4 295.7 L202.5 295.5 L205.5 295.4 L208.6 295.3 L211.7 295.2 L214.7 295.2 L217.8 295.1 L220.8 295.1 L223.9 295.2 L226.9 295.3 L230.0 295.4 L233.0 295.6 L236.1 295.9 L239.1 296.3 L242.2 296.7 L245.2 297.2 L248.3 297.7 L251.3 298.3 L254.4 298.9 L257.5 299.6 L260.5 300.4 L263.6 301.1 L266.6 302.0 L269.7 302.8 L272.7 303.7 L275.8 304.7 L278.8 305.6 L281.9 306.6 L284.9 307.7 L288.0 308.8 L291.0 309.9 L294.1 311.0 L297.2 312.2 L300.2 313.4 L303.3 314.7 L306.3 315.9 L309.4 317.2 L312.4 318.6 L315.5 319.9 L318.5 321.3 L321.6 322.7 L324.6 324.2 L327.7 325.6 L330.7 327.1 L333.8 328.6 L336.9 330.1 L339.9 331.6 L343.0 333.2" fill="none" stroke="#0a0a0a" stroke-width="1.4" stroke-linejoin="round" stroke-linecap="butt" />
<path d="M55.9 361.6 L59.0 359.6 L62.0 357.6 L65.1 355.6 L68.2 353.6 L71.2 351.6 L74.3 349.6 L77.4 347.6 L80.4 345.7 L83.5 343.8 L86.5 341.9 L89.6 340.0 L92.7 338.1 L95.7 336.3 L98.8 334.5 L101.9 332.8 L104.9 331.1 L108.0 329.4 L111.0 327.8 L114.1 326.2 L117.2 324.7 L120.2 323.2 L123.3 321.8 L126.4 320.5 L129.4 319.2 L132.5 317.9 L135.5 316.7 L138.6 315.6 L141.7 314.5 L144.7 313.5 L147.8 312.6 L150.9 311.7 L153.9 310.9 L157.0 310.2 L160.0 309.5 L163.1 308.9 L166.2 308.4 L169.2 307.9 L172.3 307.4 L175.4 307.0 L178.4 306.6 L181.5 306.3 L184.5 306.0 L187.6 305.8 L190.7 305.5 L193.7 305.4 L196.8 305.2 L199.9 305.0 L202.9 304.9 L206.0 304.8 L209.0 304.8 L212.1 304.7 L215.2 304.7 L218.2 304.8 L221.3 304.8 L224.4 304.9 L227.4 305.1 L230.5 305.3 L233.5 305.6 L236.6 306.0 L239.7 306.3 L242.7 306.8 L245.8 307.3 L248.9 307.8 L251.9 308.4 L255.0 309.1 L258.1 309.8 L261.1 310.5 L264.2 311.3 L267.2 312.1 L270.3 312.9 L273.4 313.8 L276.4 314.8 L279.5 315.7 L282.6 316.7 L285.6 317.7 L288.7 318.8 L291.7 319.9 L294.8 321.0 L297.9 322.2 L300.9 323.3 L304.0 324.5 L307.1 325.8 L310.1 327.0 L313.2 328.3 L316.2 329.6 L319.3 330.9 L322.4 332.2 L325.4 333.6 L328.5 334.9 L331.6 336.3" fill="none" stroke="#0a0a0a" stroke-width="0.8" stroke-linejoin="round" stroke-linecap="butt" />
<path d="M35.0 504.4 L154.4 434.3" fill="none" stroke="#15487c" stroke-width="1.3" stroke-linejoin="round" stroke-linecap="butt" />
<path d="M154.4 434.3 L273.0 434.3" fill="none" stroke="#5f7a9c" stroke-width="1.2" stroke-linejoin="round" stroke-linecap="butt" />
<path d="M273.0 434.3 L685.1 434.3" fill="none" stroke="#15487c" stroke-width="2.0" stroke-linejoin="round" stroke-linecap="butt" />
<path d="M35.0 528.4 L38.1 527.7 L41.1 526.9 L44.2 526.1 L47.2 525.3 L50.3 524.4 L53.3 523.6 L56.4 522.7 L59.4 521.8 L62.5 520.9 L65.5 519.9 L68.6 519.0 L71.6 518.0 L74.7 517.0 L77.7 516.0 L80.8 515.0 L83.8 513.9 L86.9 512.9 L89.9 511.8 L93.0 510.7 L96.0 509.6 L99.1 508.5 L102.1 507.4 L105.2 506.2 L108.2 505.0 L111.3 503.9 L114.3 502.7 L117.4 501.5 L120.4 500.3 L123.5 499.1 L126.5 497.8 L129.6 496.6 L132.6 495.4 L135.7 494.1 L138.7 492.8 L141.8 491.5 L144.8 490.3 L147.9 489.0 L151.0 487.7 L154.0 486.4 L157.1 485.1 L160.1 483.7 L163.2 482.4 L166.2 481.1 L169.3 479.7 L172.3 478.4 L175.4 477.1 L178.4 475.7 L181.5 474.4 L184.5 473.0 L187.6 471.6 L190.6 470.3 L193.7 468.9 L196.7 467.6 L199.8 466.2 L202.8 464.8 L205.9 463.5 L208.9 462.1 L212.0 460.7 L215.0 459.4 L218.1 458.0 L221.1 456.7 L224.2 455.3 L227.2 454.0 L230.3 452.6 L233.3 451.3 L236.4 449.9 L239.4 448.6 L242.5 447.3 L245.5 445.9 L248.6 444.6 L251.6 443.3 L254.7 442.0 L257.7 440.7 L260.8 439.4 L263.9 438.1 L266.9 436.8 L270.0 435.6 L273.0 434.3" fill="none" stroke="#15487c" stroke-width="1.3" stroke-linejoin="round" stroke-linecap="butt" />
<path d="M35.0 568.5 L38.1 567.6 L41.1 566.8 L44.2 565.9 L47.2 565.0 L50.3 564.0 L53.3 563.0 L56.4 562.0 L59.4 561.0 L62.5 559.9 L65.5 558.8 L68.6 557.7 L71.6 556.6 L74.7 555.4 L77.7 554.2 L80.8 553.0 L83.8 551.8 L86.9 550.5 L89.9 549.2 L93.0 547.9 L96.0 546.6 L99.1 545.2 L102.1 543.8 L105.2 542.4 L108.2 541.0 L111.3 539.5 L114.3 538.0 L117.4 536.5 L120.4 535.0 L123.5 533.4 L126.5 531.9 L129.6 530.3 L132.6 528.7 L135.7 527.0 L138.7 525.4 L141.8 523.7 L144.8 522.0 L147.9 520.3 L151.0 518.5 L154.0 516.8 L157.1 515.0 L160.1 513.2 L163.2 511.4 L166.2 509.5 L169.3 507.7 L172.3 505.8 L175.4 503.9 L178.4 502.0 L181.5 500.0 L184.5 498.1 L187.6 496.1 L190.6 494.1 L193.7 492.1 L196.7 490.1 L199.8 488.0 L202.8 486.0 L205.9 483.9 L208.9 481.8 L212.0 479.7 L215.0 477.6 L218.1 475.4 L221.1 473.3 L224.2 471.1 L227.2 468.9 L230.3 466.7 L233.3 464.5 L236.4 462.2 L239.4 460.0 L242.5 457.7 L245.5 455.4 L248.6 453.1 L251.6 450.8 L254.7 448.5 L257.7 446.2 L260.8 443.8 L263.9 441.5 L266.9 439.1 L270.0 436.7 L273.0 434.3" fill="none" stroke="#15487c" stroke-width="1.8" stroke-linejoin="round" stroke-linecap="butt" />
<path d="M35.0 556.1 L38.0 555.4 L41.1 554.8 L44.1 554.1 L47.2 553.5 L50.2 552.8 L53.3 552.1 L56.3 551.5 L59.3 550.8 L62.4 550.1 L65.4 549.4 L68.5 548.7 L71.5 548.0 L74.6 547.3 L77.6 546.6 L80.6 545.9 L83.7 545.2 L86.7 544.5 L89.8 543.7 L92.8 543.0 L95.9 542.3 L98.9 541.5 L101.9 540.8 L105.0 540.0 L108.0 539.3 L111.1 538.5 L114.1 537.8 L117.2 537.0 L120.2 536.2 L123.2 535.4 L126.3 534.7 L129.3 533.9 L132.4 533.1 L135.4 532.3 L138.5 531.5 L141.5 530.7 L144.6 529.9 L147.6 529.0 L150.6 528.2 L153.7 527.4 L156.7 526.6 L159.8 525.7 L162.8 524.9 L165.9 524.0 L168.9 523.2 L171.9 522.3 L175.0 521.5 L178.0 520.6 L181.1 519.7 L184.1 518.9 L187.2 518.0 L190.2 517.1 L193.2 516.2 L196.3 515.3 L199.3 514.4 L202.4 513.5 L205.4 512.6 L208.5 511.7 L211.5 510.8 L214.5 509.9 L217.6 508.9 L220.6 508.0 L223.7 507.1 L226.7 506.1 L229.8 505.2 L232.8 504.2 L235.8 503.3 L238.9 502.3 L241.9 501.3 L245.0 500.4 L248.0 499.4 L251.1 498.4 L254.1 497.4 L257.1 496.4 L260.2 495.4 L263.2 494.4 L266.3 493.4 L269.3 492.4 L272.4 491.4 L275.4 490.4 L278.4 489.4 L281.5 488.3 L284.5 487.3 L287.6 486.3 L290.6 485.2 L293.7 484.2 L296.7 483.1 L299.7 482.0 L302.8 481.0 L305.8 479.9 L308.9 478.8 L311.9 477.8 L315.0 476.7 L318.0 475.6 L321.1 474.5 L324.1 473.4 L327.1 472.3 L330.2 471.2 L333.2 470.1 L336.3 468.9 L339.3 467.8 L342.4 466.7 L345.4 465.6 L348.4 464.4 L351.5 463.3 L354.5 462.1 L357.6 461.0 L360.6 459.8 L363.7 458.6 L366.7 457.5 L369.7 456.3 L372.8 455.1 L375.8 453.9 L378.9 452.8 L381.9 451.6 L385.0 450.4 L388.0 449.2 L391.0 447.9 L394.1 446.7 L397.1 445.5 L400.2 444.3 L403.2 443.1 L406.3 441.8 L409.3 440.6 L412.3 439.3 L415.4 438.1 L418.4 436.8 L421.5 435.6 L424.5 434.3" fill="none" stroke="#15487c" stroke-width="1.3" stroke-linejoin="round" stroke-linecap="butt" />
<path d="M35.0 557.6 L38.0 556.8 L41.0 556.0 L44.0 555.1 L47.1 554.3 L50.1 553.5 L53.1 552.7 L56.1 551.8 L59.1 551.0 L62.1 550.2 L65.2 549.3 L68.2 548.5 L71.2 547.7 L74.2 546.8 L77.2 546.0 L80.2 545.2 L83.3 544.3 L86.3 543.5 L89.3 542.7 L92.3 541.8 L95.3 541.0 L98.3 540.2 L101.4 539.3 L104.4 538.5 L107.4 537.7 L110.4 536.8 L113.4 536.0 L116.4 535.2 L119.4 534.4 L122.5 533.5 L125.5 532.7 L128.5 531.9 L131.5 531.1 L134.5 530.2 L137.5 529.4 L140.6 528.6 L143.6 527.8 L146.6 527.0 L149.6 526.2 L152.6 525.4 L155.6 524.5 L158.7 523.7 L161.7 522.9 L164.7 522.1 L167.7 521.3 L170.7 520.6 L173.7 519.8 L176.7 519.0 L179.8 518.2 L182.8 517.4 L185.8 516.6 L188.8 515.9 L191.8 515.1 L194.8 514.3 L197.9 513.5 L200.9 512.8 L203.9 512.0 L206.9 511.3 L209.9 510.5 L212.9 509.8 L216.0 509.0 L219.0 508.3 L222.0 507.6 L225.0 506.8 L228.0 506.1 L231.0 505.4 L234.1 504.7 L237.1 503.9 L240.1 503.2 L243.1 502.5 L246.1 501.8 L249.1 501.1 L252.1 500.4 L255.2 499.8 L258.2 499.1 L261.2 498.4 L264.2 497.7 L267.2 497.1 L270.2 496.4 L273.3 495.7 L276.3 495.1 L279.3 494.5 L282.3 493.8 L285.3 493.2 L288.3 492.5 L291.4 491.9 L294.4 491.3 L297.4 490.7 L300.4 490.1 L303.4 489.5 L306.4 488.9 L309.5 488.3 L312.5 487.7 L315.5 487.1 L318.5 486.6 L321.5 486.0 L324.5 485.4 L327.5 484.9 L330.6 484.3 L333.6 483.8 L336.6 483.3 L339.6 482.7 L342.6 482.2 L345.6 481.7 L348.7 481.2 L351.7 480.7 L354.7 480.2 L357.7 479.7 L360.7 479.2 L363.7 478.7 L366.8 478.3 L369.8 477.8 L372.8 477.4 L375.8 476.9 L378.8 476.5 L381.8 476.0 L384.8 475.6 L387.9 475.2 L390.9 474.8 L393.9 474.3 L396.9 473.9 L399.9 473.6 L402.9 473.2 L406.0 472.8 L409.0 472.4 L412.0 472.0 L415.0 471.7 L418.0 471.3 L421.0 471.0 L424.1 470.7 L427.1 470.3 L430.1 470.0 L433.1 469.7 L436.1 469.4 L439.1 469.1 L442.2 468.8 L445.2 468.5 L448.2 468.2 L451.2 467.9 L454.2 467.7 L457.2 467.4 L460.2 467.2 L463.3 466.9 L466.3 466.7 L469.3 466.5 L472.3 466.2 L475.3 466.0 L478.3 465.8 L481.4 465.6 L484.4 465.4 L487.4 465.2 L490.4 465.1 L493.4 464.9 L496.4 464.7 L499.5 464.6 L502.5 464.4 L505.5 464.3 L508.5 464.2 L511.5 464.0 L514.5 463.9 L517.5 463.8 L520.6 463.7 L523.6 463.6 L526.6 463.5 L529.6 463.4 L532.6 463.4 L535.6 463.3 L538.7 463.2 L541.7 463.2 L544.7 463.2 L547.7 463.1 L550.7 463.1 L553.7 463.1 L556.8 463.1 L559.8 463.0 L562.8 463.0 L565.8 463.1 L568.8 463.1 L571.8 463.1 L574.9 463.1 L577.9 463.2 L580.9 463.2 L583.9 463.3 L586.9 463.3 L589.9 463.4 L592.9 463.5 L596.0 463.5 L599.0 463.6 L602.0 463.7 L605.0 463.8 L608.0 463.9 L611.0 464.0 L614.1 464.2 L617.1 464.3 L620.1 464.4 L623.1 464.6 L626.1 464.7 L629.1 464.9 L632.2 465.0 L635.2 465.2 L638.2 465.4" fill="none" stroke="#15487c" stroke-width="1.3" stroke-linejoin="round" stroke-linecap="butt" />
<path d="M35.0 577.5 L38.0 577.1 L41.1 576.7 L44.1 576.3 L47.2 575.9 L50.2 575.4 L53.2 575.0 L56.3 574.5 L59.3 574.0 L62.3 573.6 L65.4 573.1 L68.4 572.6 L71.5 572.0 L74.5 571.5 L77.5 571.0 L80.6 570.4 L83.6 569.9 L86.7 569.3 L89.7 568.7 L92.7 568.1 L95.8 567.5 L98.8 566.9 L101.9 566.2 L104.9 565.6 L107.9 564.9 L111.0 564.3 L114.0 563.6 L117.0 562.9 L120.1 562.2 L123.1 561.5 L126.2 560.8 L129.2 560.0 L132.2 559.3 L135.3 558.5 L138.3 557.8 L141.4 557.0 L144.4 556.2 L147.4 555.4 L150.5 554.6 L153.5 553.8 L156.5 552.9 L159.6 552.1 L162.6 551.2 L165.7 550.3 L168.7 549.5 L171.7 548.6 L174.8 547.7 L177.8 546.8 L180.9 545.8 L183.9 544.9 L186.9 543.9 L190.0 543.0 L193.0 542.0 L196.0 541.0 L199.1 540.0 L202.1 539.0 L205.2 538.0 L208.2 537.0 L211.2 536.0 L214.3 534.9 L217.3 533.8 L220.4 532.8 L223.4 531.7 L226.4 530.6 L229.5 529.5 L232.5 528.4 L235.6 527.3 L238.6 526.1 L241.6 525.0 L244.7 523.8 L247.7 522.6 L250.7 521.5 L253.8 520.3 L256.8 519.1 L259.9 517.8 L262.9 516.6 L265.9 515.4 L269.0 514.1 L272.0 512.9 L275.1 511.6 L278.1 510.3 L281.1 509.0 L284.2 507.7 L287.2 506.4 L290.2 505.1 L293.3 503.8 L296.3 502.4 L299.4 501.1 L302.4 499.7 L305.4 498.3 L308.5 496.9 L311.5 495.5 L314.6 494.1 L317.6 492.7 L320.6 491.2 L323.7 489.8 L326.7 488.4 L329.7 486.9 L332.8 485.4 L335.8 483.9 L338.9 482.4 L341.9 480.9 L344.9 479.4 L348.0 477.9 L351.0 476.3 L354.1 474.8 L357.1 473.2 L360.1 471.6 L363.2 470.0 L366.2 468.5 L369.3 466.8 L372.3 465.2 L375.3 463.6 L378.4 462.0 L381.4 460.3 L384.4 458.7 L387.5 457.0 L390.5 455.3 L393.6 453.6 L396.6 451.9 L399.6 450.2 L402.7 448.5 L405.7 446.7 L408.8 445.0 L411.8 443.2 L414.8 441.5 L417.9 439.7 L420.9 437.9 L423.9 436.1 L427.0 434.3" fill="none" stroke="#15487c" stroke-width="1.4" stroke-linejoin="round" stroke-linecap="butt" />
<path d="M35.0 579.6 L38.0 579.3 L41.0 578.9 L44.1 578.5 L47.1 578.2 L50.1 577.8 L53.1 577.4 L56.1 577.1 L59.1 576.7 L62.2 576.3 L65.2 576.0 L68.2 575.6 L71.2 575.2 L74.2 574.8 L77.2 574.5 L80.3 574.1 L83.3 573.7 L86.3 573.3 L89.3 572.9 L92.3 572.5 L95.4 572.1 L98.4 571.8 L101.4 571.4 L104.4 571.0 L107.4 570.6 L110.4 570.2 L113.5 569.8 L116.5 569.4 L119.5 568.9 L122.5 568.5 L125.5 568.1 L128.5 567.7 L131.6 567.3 L134.6 566.9 L137.6 566.4 L140.6 566.0 L143.6 565.6 L146.7 565.2 L149.7 564.7 L152.7 564.3 L155.7 563.8 L158.7 563.4 L161.7 563.0 L164.8 562.5 L167.8 562.0 L170.8 561.6 L173.8 561.1 L176.8 560.7 L179.9 560.2 L182.9 559.7 L185.9 559.3 L188.9 558.8 L191.9 558.3 L194.9 557.8 L198.0 557.3 L201.0 556.8 L204.0 556.3 L207.0 555.8 L210.0 555.3 L213.0 554.8 L216.1 554.3 L219.1 553.8 L222.1 553.3 L225.1 552.8 L228.1 552.2 L231.2 551.7 L234.2 551.2 L237.2 550.6 L240.2 550.1 L243.2 549.5 L246.2 549.0 L249.3 548.4 L252.3 547.9 L255.3 547.3 L258.3 546.7 L261.3 546.1 L264.3 545.6 L267.4 545.0 L270.4 544.4 L273.4 543.8 L276.4 543.2 L279.4 542.6 L282.5 542.0 L285.5 541.3 L288.5 540.7 L291.5 540.1 L294.5 539.5 L297.5 538.8 L300.6 538.2 L303.6 537.5 L306.6 536.9 L309.6 536.2 L312.6 535.6 L315.6 534.9 L318.7 534.2 L321.7 533.5 L324.7 532.9 L327.7 532.2 L330.7 531.5 L333.8 530.8 L336.8 530.0 L339.8 529.3 L342.8 528.6 L345.8 527.9 L348.8 527.1 L351.9 526.4 L354.9 525.7 L357.9 524.9 L360.9 524.1 L363.9 523.4 L366.9 522.6 L370.0 521.8 L373.0 521.0 L376.0 520.3 L379.0 519.5 L382.0 518.7 L385.1 517.8 L388.1 517.0 L391.1 516.2 L394.1 515.4 L397.1 514.5 L400.1 513.7 L403.2 512.8 L406.2 512.0 L409.2 511.1 L412.2 510.2 L415.2 509.3 L418.2 508.5 L421.3 507.6 L424.3 506.7 L427.3 505.7 L430.3 504.8 L433.3 503.9 L436.4 503.0 L439.4 502.0 L442.4 501.1 L445.4 500.1 L448.4 499.2 L451.4 498.2 L454.5 497.2 L457.5 496.2 L460.5 495.2 L463.5 494.2 L466.5 493.2 L469.6 492.2 L472.6 491.2 L475.6 490.1 L478.6 489.1 L481.6 488.0 L484.6 487.0 L487.7 485.9 L490.7 484.8 L493.7 483.7 L496.7 482.7 L499.7 481.6 L502.7 480.4 L505.8 479.3 L508.8 478.2 L511.8 477.1 L514.8 475.9 L517.8 474.8 L520.9 473.6 L523.9 472.4 L526.9 471.2 L529.9 470.0 L532.9 468.8 L535.9 467.6 L539.0 466.4 L542.0 465.2 L545.0 464.0 L548.0 462.7 L551.0 461.5 L554.0 460.2 L557.1 458.9 L560.1 457.6 L563.1 456.3 L566.1 455.0 L569.1 453.7 L572.2 452.4 L575.2 451.1 L578.2 449.7 L581.2 448.4 L584.2 447.0 L587.2 445.6 L590.3 444.3 L593.3 442.9 L596.3 441.5 L599.3 440.1 L602.3 438.6 L605.3 437.2 L608.4 435.8 L611.4 434.3" fill="none" stroke="#15487c" stroke-width="1.3" stroke-linejoin="round" stroke-linecap="butt" />
<path d="M35.0 582.3 L38.0 582.2 L41.1 582.0 L44.1 581.8 L47.1 581.6 L50.1 581.5 L53.2 581.3 L56.2 581.1 L59.2 580.8 L62.2 580.6 L65.3 580.4 L68.3 580.2 L71.3 579.9 L74.3 579.7 L77.4 579.4 L80.4 579.2 L83.4 578.9 L86.4 578.6 L89.5 578.3 L92.5 578.0 L95.5 577.7 L98.5 577.4 L101.6 577.1 L104.6 576.7 L107.6 576.4 L110.6 576.0 L113.7 575.7 L116.7 575.3 L119.7 574.9 L122.7 574.5 L125.8 574.1 L128.8 573.7 L131.8 573.3 L134.8 572.9 L137.9 572.5 L140.9 572.0 L143.9 571.6 L146.9 571.1 L150.0 570.7 L153.0 570.2 L156.0 569.7 L159.1 569.2 L162.1 568.7 L165.1 568.2 L168.1 567.7 L171.2 567.2 L174.2 566.6 L177.2 566.1 L180.2 565.5 L183.3 564.9 L186.3 564.4 L189.3 563.8 L192.3 563.2 L195.4 562.6 L198.4 562.0 L201.4 561.3 L204.4 560.7 L207.5 560.1 L210.5 559.4 L213.5 558.8 L216.5 558.1 L219.6 557.4 L222.6 556.7 L225.6 556.0 L228.6 555.3 L231.7 554.6 L234.7 553.9 L237.7 553.2 L240.7 552.4 L243.8 551.7 L246.8 550.9 L249.8 550.1 L252.8 549.3 L255.9 548.5 L258.9 547.7 L261.9 546.9 L265.0 546.1 L268.0 545.3 L271.0 544.5 L274.0 543.6 L277.1 542.7 L280.1 541.9 L283.1 541.0 L286.1 540.1 L289.2 539.2 L292.2 538.3 L295.2 537.4 L298.2 536.5 L301.3 535.6 L304.3 534.6 L307.3 533.7 L310.3 532.7 L313.4 531.7 L316.4 530.7 L319.4 529.8 L322.4 528.8 L325.5 527.8 L328.5 526.7 L331.5 525.7 L334.5 524.7 L337.6 523.6 L340.6 522.6 L343.6 521.5 L346.6 520.4 L349.7 519.4 L352.7 518.3 L355.7 517.2 L358.7 516.1 L361.8 515.0 L364.8 513.8 L367.8 512.7 L370.8 511.6 L373.9 510.4 L376.9 509.2 L379.9 508.1 L383.0 506.9 L386.0 505.7 L389.0 504.5 L392.0 503.3 L395.1 502.1 L398.1 500.9 L401.1 499.6 L404.1 498.4 L407.2 497.1 L410.2 495.9 L413.2 494.6 L416.2 493.3 L419.3 492.1 L422.3 490.8 L425.3 489.5 L428.3 488.2 L431.4 486.8 L434.4 485.5 L437.4 484.2 L440.4 482.8 L443.5 481.5 L446.5 480.1 L449.5 478.8 L452.5 477.4 L455.6 476.0 L458.6 474.6 L461.6 473.2 L464.6 471.8 L467.7 470.4 L470.7 469.0 L473.7 467.6 L476.7 466.1 L479.8 464.7 L482.8 463.2 L485.8 461.8 L488.8 460.3 L491.9 458.8 L494.9 457.4 L497.9 455.9 L501.0 454.4 L504.0 452.9 L507.0 451.4 L510.0 449.8 L513.1 448.3 L516.1 446.8 L519.1 445.2 L522.1 443.7 L525.2 442.2 L528.2 440.6 L531.2 439.0 L534.2 437.5 L537.3 435.9 L540.3 434.3" fill="none" stroke="#15487c" stroke-width="1.8" stroke-linejoin="round" stroke-linecap="butt" />
<path d="M35.0 588.6 L38.0 588.4 L41.1 588.1 L44.1 587.8 L47.2 587.6 L50.2 587.3 L53.3 587.1 L56.3 586.8 L59.4 586.6 L62.4 586.3 L65.5 586.1 L68.5 585.9 L71.6 585.6 L74.6 585.4 L77.7 585.2 L80.7 584.9 L83.8 584.7 L86.8 584.5 L89.9 584.2 L92.9 584.0 L96.0 583.8 L99.0 583.6 L102.1 583.4 L105.1 583.2 L108.2 583.0 L111.2 582.8 L114.3 582.6 L117.3 582.4 L120.4 582.2 L123.4 582.0 L126.5 581.8 L129.5 581.6 L132.6 581.4 L135.6 581.2 L138.7 581.0 L141.7 580.9 L144.8 580.7 L147.8 580.5 L150.9 580.3 L153.9 580.2 L157.0 580.0 L160.0 579.8 L163.1 579.7 L166.1 579.5 L169.2 579.4 L172.2 579.2 L175.3 579.1 L178.3 578.9 L181.4 578.8 L184.4 578.7 L187.5 578.5 L190.5 578.4 L193.6 578.3 L196.6 578.1 L199.7 578.0 L202.7 577.9 L205.8 577.8 L208.8 577.7 L211.8 577.6 L214.9 577.5 L217.9 577.4 L221.0 577.3 L224.0 577.2 L227.1 577.1 L230.1 577.0 L233.2 576.9 L236.2 576.8 L239.3 576.7 L242.3 576.7 L245.4 576.6 L248.4 576.5 L251.5 576.5 L254.5 576.4 L257.6 576.3 L260.6 576.3 L263.7 576.2 L266.7 576.2 L269.8 576.2 L272.8 576.1 L275.9 576.1 L278.9 576.0 L282.0 576.0 L285.0 576.0 L288.1 576.0 L291.1 576.0 L294.2 575.9 L297.2 575.9 L300.3 575.9 L303.3 575.9 L306.4 575.9 L309.4 575.9 L312.5 575.9 L315.5 575.9 L318.6 576.0 L321.6 576.0 L324.7 576.0 L327.7 576.0 L330.8 576.1 L333.8 576.1 L336.9 576.1 L339.9 576.2 L343.0 576.2" fill="none" stroke="#15487c" stroke-width="1.4" stroke-linejoin="round" stroke-linecap="butt" />
<path d="M35.0 588.6 L38.1 588.4 L41.1 588.1 L44.2 587.9 L47.2 587.7 L50.3 587.4 L53.3 587.2 L56.4 586.9 L59.5 586.7 L62.5 586.5 L65.6 586.3 L68.6 586.0 L71.7 585.8 L74.7 585.6 L77.8 585.4 L80.9 585.2 L83.9 584.9 L87.0 584.7 L90.0 584.5 L93.1 584.3 L96.1 584.1 L99.2 583.9 L102.3 583.7 L105.3 583.5 L108.4 583.3 L111.4 583.1 L114.5 583.0 L117.5 582.8 L120.6 582.6 L123.7 582.4 L126.7 582.2 L129.8 582.1 L132.8 581.9 L135.9 581.7 L138.9 581.6 L142.0 581.4 L145.1 581.2 L148.1 581.1 L151.2 580.9 L154.2 580.8 L157.3 580.6 L160.3 580.5 L163.4 580.3 L166.5 580.2 L169.5 580.1 L172.6 579.9 L175.6 579.8 L178.7 579.7 L181.7 579.6 L184.8 579.4 L187.9 579.3 L190.9 579.2 L194.0 579.1 L197.0 579.0 L200.1 578.9 L203.2 578.8 L206.2 578.7 L209.3 578.6 L212.3 578.5 L215.4 578.4 L218.4 578.3 L221.5 578.2 L224.6 578.1 L227.6 578.1 L230.7 578.0 L233.7 577.9 L236.8 577.9 L239.8 577.8 L242.9 577.7 L246.0 577.7 L249.0 577.6 L252.1 577.6 L255.1 577.5 L258.2 577.5 L261.2 577.4 L264.3 577.4 L267.4 577.4 L270.4 577.3 L273.5 577.3 L276.5 577.3 L279.6 577.3 L282.6 577.3 L285.7 577.2 L288.8 577.2 L291.8 577.2 L294.9 577.2 L297.9 577.2 L301.0 577.2 L304.0 577.2 L307.1 577.3 L310.2 577.3 L313.2 577.3 L316.3 577.3 L319.3 577.3 L322.4 577.4 L325.4 577.4 L328.5 577.5 L331.6 577.5" fill="none" stroke="#15487c" stroke-width="0.8" stroke-linejoin="round" stroke-linecap="butt" />
<path d="M34.90 0 V382.8" stroke="#707070" stroke-width="1.8"/>
<path d="M34.0 381.90 H750.9" stroke="#707070" stroke-width="1.8"/>
<path d="M750.0 0 V382.8" stroke="#707070" stroke-width="1.8"/>
<path d="M34.9 0.6 H750.0" stroke="#8a8a8a" stroke-width="1.4"/>
<path d="M34.90 399.9 V603.6" stroke="#707070" stroke-width="1.8"/>
<path d="M31.0 400.4 H750.8" stroke="#8c8c8c" stroke-width="1.7"/>
<path d="M31.0 602.7 H750.7" stroke="#959595" stroke-width="1.6"/>
<path d="M750.1 400.4 V602.8" stroke="#a8a8a8" stroke-width="1.4"/>
<path d="M31.0 356.5 H34.5 M31.0 331.1 H34.5 M31.0 305.6 H34.5 M31.0 280.1 H34.5 M31.0 254.7 H34.5 M31.0 229.2 H34.5 M31.0 203.7 H34.5 M31.0 178.3 H34.5 M31.0 152.8 H34.5 M31.0 127.3 H34.5 M31.0 101.9 H34.5 M31.0 76.4 H34.5 M31.0 51.0 H34.5 M750.5 356.5 H754.2 M750.5 331.1 H754.2 M750.5 305.6 H754.2 M750.5 280.1 H754.2 M750.5 254.7 H754.2 M750.5 229.2 H754.2 M750.5 203.7 H754.2 M750.5 178.3 H754.2 M750.5 152.8 H754.2 M72.5 382.5 V386.2 M110.5 382.5 V386.2 M148.5 382.5 V386.2 M186.5 382.5 V386.2 M224.5 382.5 V386.2 M262.5 382.5 V386.2 M300.5 382.5 V386.2 M338.5 382.5 V386.2 M377.5 382.5 V386.2 M415.5 382.5 V386.2 M453.5 382.5 V386.2 M491.5 382.5 V386.2 M529.5 382.5 V386.2 M567.5 382.5 V386.2 M605.5 382.5 V386.2 M643.5 382.5 V386.2 M681.5 382.5 V386.2 M719.5 382.5 V386.2 M31.0 577.5 H34.5 M31.0 552.2 H34.5 M31.0 526.9 H34.5 M31.0 501.6 H34.5 M31.0 476.3 H34.5 M31.0 451.0 H34.5" stroke="#959595" stroke-width="1.2" fill="none"/>
<path d="M31.0 382.0 H34.5 M750.5 382.0 H754.5 M34.9 382.8 V386.0" stroke="#b0b0b0" stroke-width="1.4"/>
<path d="M31.0 425.7 H34.5" stroke="#c0c0c0" stroke-width="1.2"/>
<rect x="624.8" y="0.5" width="125.2" height="15.6" fill="#fff" stroke="#333" stroke-width="1.3"/>
<g font-family="'Liberation Sans', sans-serif" style="will-change:opacity;opacity:0.999;"><text x="27.4" y="385.0" text-anchor="end" font-size="10.3" fill="#2a2a2a">0.0</text><text x="27.4" y="359.5" text-anchor="end" font-size="10.3" fill="#2a2a2a">0.5</text><text x="27.4" y="334.1" text-anchor="end" font-size="10.3" fill="#2a2a2a">1.0</text><text x="27.4" y="308.6" text-anchor="end" font-size="10.3" fill="#2a2a2a">1.5</text><text x="27.4" y="283.1" text-anchor="end" font-size="10.3" fill="#2a2a2a">2.0</text><text x="27.4" y="257.7" text-anchor="end" font-size="10.3" fill="#2a2a2a">2.5</text><text x="27.4" y="232.2" text-anchor="end" font-size="10.3" fill="#2a2a2a">3.0</text><text x="27.4" y="206.7" text-anchor="end" font-size="10.3" fill="#2a2a2a">3.5</text><text x="27.4" y="181.3" text-anchor="end" font-size="10.3" fill="#2a2a2a">4.0</text><text x="27.4" y="155.8" text-anchor="end" font-size="10.3" fill="#2a2a2a">4.5</text><text x="27.4" y="130.3" text-anchor="end" font-size="10.3" fill="#2a2a2a">5.0</text><text x="27.4" y="104.9" text-anchor="end" font-size="10.3" fill="#2a2a2a">5.5</text><text x="27.4" y="79.4" text-anchor="end" font-size="10.3" fill="#2a2a2a">6.0</text><text x="27.4" y="54.0" text-anchor="end" font-size="10.3" fill="#2a2a2a">6.5</text><text x="23.0" y="9.9" text-anchor="middle" font-size="10.3" fill="#2a2a2a">H</text><text x="23.4" y="22.0" text-anchor="middle" font-size="10.3" fill="#2a2a2a">[м]</text><text x="757.3" y="385.0" text-anchor="start" font-size="10.3" fill="#2a2a2a">0</text><text x="757.3" y="359.5" text-anchor="start" font-size="10.3" fill="#2a2a2a">10</text><text x="757.3" y="334.1" text-anchor="start" font-size="10.3" fill="#2a2a2a">20</text><text x="757.3" y="308.6" text-anchor="start" font-size="10.3" fill="#2a2a2a">30</text><text x="757.3" y="283.1" text-anchor="start" font-size="10.3" fill="#2a2a2a">40</text><text x="757.3" y="257.7" text-anchor="start" font-size="10.3" fill="#2a2a2a">50</text><text x="757.3" y="232.2" text-anchor="start" font-size="10.3" fill="#2a2a2a">60</text><text x="757.3" y="206.7" text-anchor="start" font-size="10.3" fill="#2a2a2a">70</text><text x="757.3" y="181.3" text-anchor="start" font-size="10.3" fill="#2a2a2a">80</text><text x="757.3" y="155.8" text-anchor="start" font-size="10.3" fill="#2a2a2a">90</text><text x="755.9" y="10.5" text-anchor="start" font-size="10.3" fill="#2a2a2a" textLength="13.7" lengthAdjust="spacing">eta</text><text x="756.0" y="22.3" text-anchor="start" font-size="10.3" fill="#2a2a2a" textLength="13.4" lengthAdjust="spacing">[%]</text><text x="33.8" y="395.3" text-anchor="middle" font-size="10.3" fill="#2a2a2a">0</text><text x="73.0" y="395.3" text-anchor="middle" font-size="10.3" fill="#2a2a2a">0,2</text><text x="111.0" y="395.3" text-anchor="middle" font-size="10.3" fill="#2a2a2a">0,4</text><text x="149.1" y="395.3" text-anchor="middle" font-size="10.3" fill="#2a2a2a">0,6</text><text x="187.1" y="395.3" text-anchor="middle" font-size="10.3" fill="#2a2a2a">0,8</text><text x="225.1" y="395.3" text-anchor="middle" font-size="10.3" fill="#2a2a2a">1,0</text><text x="263.1" y="395.3" text-anchor="middle" font-size="10.3" fill="#2a2a2a">1,2</text><text x="301.1" y="395.3" text-anchor="middle" font-size="10.3" fill="#2a2a2a">1,4</text><text x="339.2" y="395.3" text-anchor="middle" font-size="10.3" fill="#2a2a2a">1,6</text><text x="377.2" y="395.3" text-anchor="middle" font-size="10.3" fill="#2a2a2a">1,8</text><text x="415.2" y="395.3" text-anchor="middle" font-size="10.3" fill="#2a2a2a">2,0</text><text x="453.2" y="395.3" text-anchor="middle" font-size="10.3" fill="#2a2a2a">2,2</text><text x="491.2" y="395.3" text-anchor="middle" font-size="10.3" fill="#2a2a2a">2,4</text><text x="529.3" y="395.3" text-anchor="middle" font-size="10.3" fill="#2a2a2a">2,6</text><text x="567.3" y="395.3" text-anchor="middle" font-size="10.3" fill="#2a2a2a">2,8</text><text x="605.3" y="395.3" text-anchor="middle" font-size="10.3" fill="#2a2a2a">3,0</text><text x="643.3" y="395.3" text-anchor="middle" font-size="10.3" fill="#2a2a2a">3,2</text><text x="681.3" y="395.3" text-anchor="middle" font-size="10.3" fill="#2a2a2a">3,4</text><text x="711.4" y="395.3" text-anchor="start" font-size="10.3" fill="#2a2a2a" textLength="34.1" lengthAdjust="spacing">Q [м³/ч]</text><text x="18.1" y="409.7" text-anchor="middle" font-size="10.3" fill="#2a2a2a">P1</text><text x="17.0" y="422.3" text-anchor="middle" font-size="10.3" fill="#2a2a2a">[кВт]</text><text x="27.6" y="606.3" text-anchor="end" font-size="10.3" fill="#2a2a2a">0</text><text x="1.4" y="581.0" text-anchor="start" font-size="10.3" fill="#2a2a2a" textLength="26.0" lengthAdjust="spacing">0,005</text><text x="1.4" y="555.7" text-anchor="start" font-size="10.3" fill="#2a2a2a" textLength="26.0" lengthAdjust="spacing">0,010</text><text x="1.4" y="530.4" text-anchor="start" font-size="10.3" fill="#2a2a2a" textLength="26.0" lengthAdjust="spacing">0,015</text><text x="1.4" y="505.1" text-anchor="start" font-size="10.3" fill="#2a2a2a" textLength="26.0" lengthAdjust="spacing">0,020</text><text x="1.4" y="479.8" text-anchor="start" font-size="10.3" fill="#2a2a2a" textLength="26.0" lengthAdjust="spacing">0,025</text><text x="1.4" y="454.5" text-anchor="start" font-size="10.3" fill="#2a2a2a" textLength="26.0" lengthAdjust="spacing">0,030</text><text x="628.8" y="10.4" text-anchor="start" font-size="10.3" fill="#2a2a2a" textLength="118.3" lengthAdjust="spacing">ALPHA2 25-60 180, 50Hz</text><text x="581.0" y="30.1" text-anchor="start" font-size="10.3" fill="#2a2a2a" textLength="163.5" lengthAdjust="spacing">Перекачиваемая жидкость = Вода</text><text x="581.0" y="42.1" text-anchor="start" font-size="10.3" fill="#2a2a2a" textLength="112.4" lengthAdjust="spacing">Темп. жидкости = 60 °C</text><text x="581.0" y="54.0" text-anchor="start" font-size="10.3" fill="#2a2a2a" textLength="111.9" lengthAdjust="spacing">Плотность = 983.2 кг/м³</text></g>
</svg>
</body></html>
